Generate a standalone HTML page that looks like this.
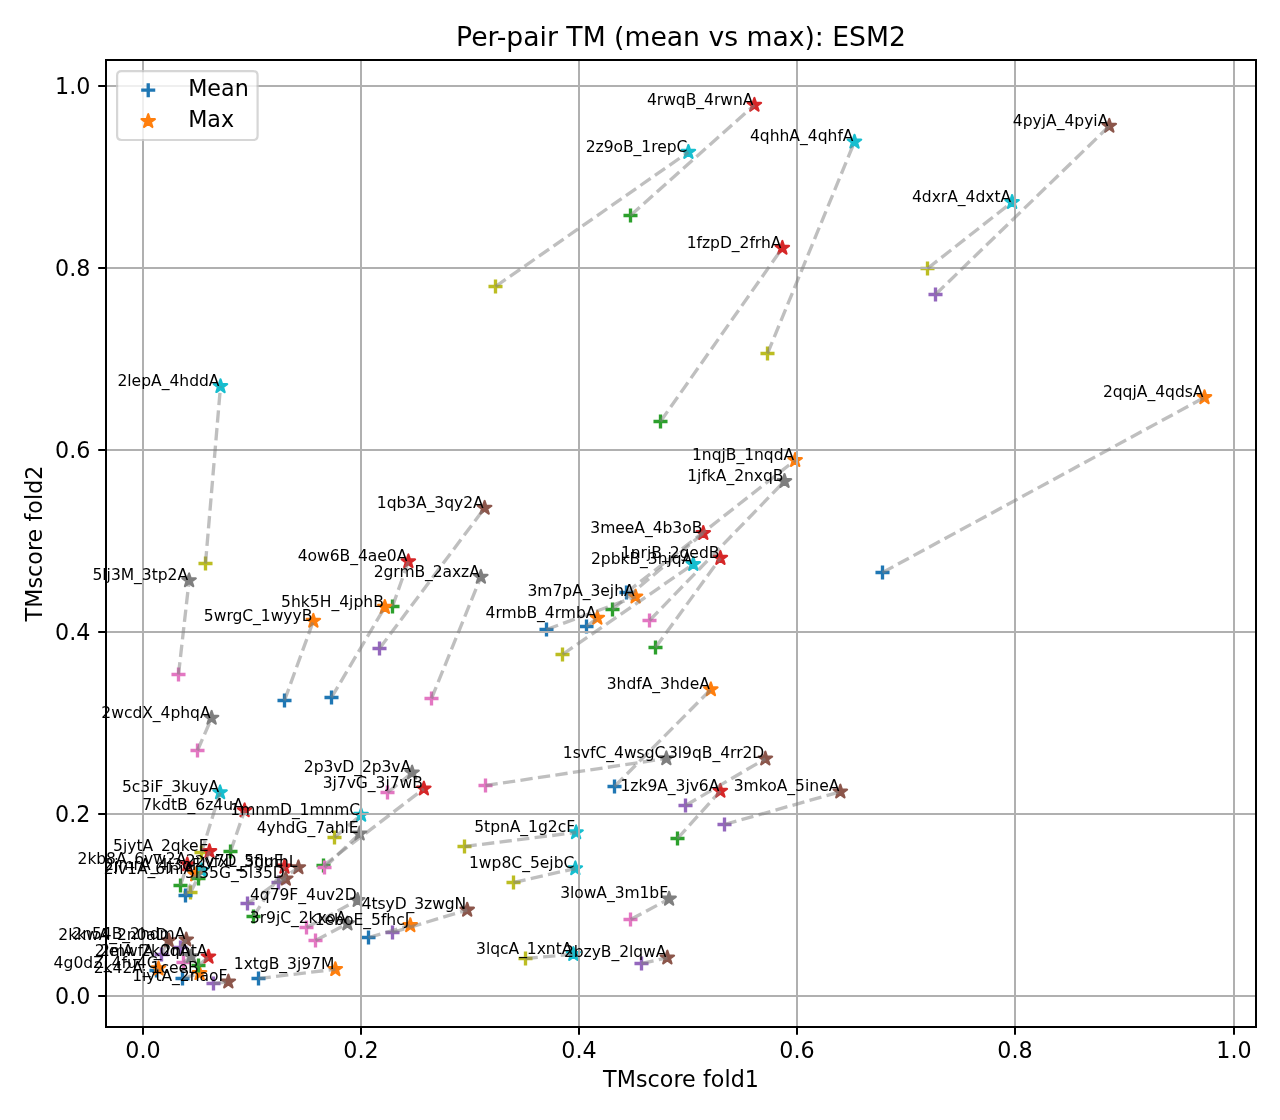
<!DOCTYPE html>
<html><head><meta charset="utf-8"><title>Per-pair TM (mean vs max): ESM2</title>
<style>html,body{margin:0;padding:0;background:#fff}svg{display:block}</style>
</head><body>
<svg width="1280" height="1120" viewBox="0 0 576 504">
 <defs>
  <style type="text/css">*{stroke-linejoin: round; stroke-linecap: butt}</style>
 </defs>
 <g id="figure_1">
  <g id="patch_1">
   <path d="M 0 504 L 576 504 L 576 0 L 0 0 z" style="fill: #ffffff"/>
  </g>
  <g id="axes_1">
   <g id="patch_2">
    <path d="M 47.7 462.15 L 565.2 462.15 L 565.2 27 L 47.7 27 z" style="fill: #ffffff"/>
   </g>
   <g id="PathCollection_1">
    <g clip-path="url(#p9a2cc77dde)">
     <path d="M -3.162278 0 L 3.162278 0 M 0 3.162278 L 0 -3.162278" transform="translate(165.825 421.875)" style="stroke: #1f77b4; stroke-width: 1.5; fill: #1f77b4; stroke: #1f77b4; stroke-width: 1.5"/>
    </g>
   </g>
   <g id="PathCollection_2">
    <g clip-path="url(#p9a2cc77dde)">
     <path d="M 0 -3.162278 L -0.709976 -0.977198 L -3.007505 -0.977198 L -1.148765 0.373256 L -1.85874 2.558336 L -0 1.207883 L 1.85874 2.558336 L 1.148765 0.373256 L 3.007505 -0.977198 L 0.709976 -0.977198 z" transform="translate(184.635 416.43)" style="stroke: #ff7f0e; fill: #ff7f0e; stroke: #ff7f0e"/>
    </g>
   </g>
   <g id="PathCollection_3">
    <g clip-path="url(#p9a2cc77dde)">
     <path d="M -3.162278 0 L 3.162278 0 M 0 3.162278 L 0 -3.162278" transform="translate(297.225 189.675)" style="stroke: #2ca02c; stroke-width: 1.5; fill: #2ca02c; stroke: #2ca02c; stroke-width: 1.5"/>
    </g>
   </g>
   <g id="PathCollection_4">
    <g clip-path="url(#p9a2cc77dde)">
     <path d="M 0 -3.162278 L -0.709976 -0.977198 L -3.007505 -0.977198 L -1.148765 0.373256 L -1.85874 2.558336 L -0 1.207883 L 1.85874 2.558336 L 1.148765 0.373256 L 3.007505 -0.977198 L 0.709976 -0.977198 z" transform="translate(352.0575 111.6)" style="stroke: #d62728; fill: #d62728; stroke: #d62728"/>
    </g>
   </g>
   <g id="PathCollection_5">
    <g clip-path="url(#p9a2cc77dde)">
     <path d="M -3.162278 0 L 3.162278 0 M 0 3.162278 L 0 -3.162278" transform="translate(96.075 442.575)" style="stroke: #9467bd; stroke-width: 1.5; fill: #9467bd; stroke: #9467bd; stroke-width: 1.5"/>
    </g>
   </g>
   <g id="PathCollection_6">
    <g clip-path="url(#p9a2cc77dde)">
     <path d="M 0 -3.162278 L -0.709976 -0.977198 L -3.007505 -0.977198 L -1.148765 0.373256 L -1.85874 2.558336 L -0 1.207883 L 1.85874 2.558336 L 1.148765 0.373256 L 3.007505 -0.977198 L 0.709976 -0.977198 z" transform="translate(102.7575 441.7875)" style="stroke: #8c564b; fill: #8c564b; stroke: #8c564b"/>
    </g>
   </g>
   <g id="PathCollection_7">
    <g clip-path="url(#p9a2cc77dde)">
     <path d="M -3.162278 0 L 3.162278 0 M 0 3.162278 L 0 -3.162278" transform="translate(292.275 279.225)" style="stroke: #e377c2; stroke-width: 1.5; fill: #e377c2; stroke: #e377c2; stroke-width: 1.5"/>
    </g>
   </g>
   <g id="PathCollection_8">
    <g clip-path="url(#p9a2cc77dde)">
     <path d="M 0 -3.162278 L -0.709976 -0.977198 L -3.007505 -0.977198 L -1.148765 0.373256 L -1.85874 2.558336 L -0 1.207883 L 1.85874 2.558336 L 1.148765 0.373256 L 3.007505 -0.977198 L 0.709976 -0.977198 z" transform="translate(353.025 216.54)" style="stroke: #7f7f7f; fill: #7f7f7f; stroke: #7f7f7f"/>
    </g>
   </g>
   <g id="PathCollection_9">
    <g clip-path="url(#p9a2cc77dde)">
     <path d="M -3.162278 0 L 3.162278 0 M 0 3.162278 L 0 -3.162278" transform="translate(150.525 376.875)" style="stroke: #bcbd22; stroke-width: 1.5; fill: #bcbd22; stroke: #bcbd22; stroke-width: 1.5"/>
    </g>
   </g>
   <g id="PathCollection_10">
    <g clip-path="url(#p9a2cc77dde)">
     <path d="M 0 -3.162278 L -0.709976 -0.977198 L -3.007505 -0.977198 L -1.148765 0.373256 L -1.85874 2.558336 L -0 1.207883 L 1.85874 2.558336 L 1.148765 0.373256 L 3.007505 -0.977198 L 0.709976 -0.977198 z" transform="translate(162.495 366.75)" style="stroke: #17becf; fill: #17becf; stroke: #17becf"/>
    </g>
   </g>
   <g id="PathCollection_11">
    <g clip-path="url(#p9a2cc77dde)">
     <path d="M -3.162278 0 L 3.162278 0 M 0 3.162278 L 0 -3.162278" transform="translate(281.925 266.625)" style="stroke: #1f77b4; stroke-width: 1.5; fill: #1f77b4; stroke: #1f77b4; stroke-width: 1.5"/>
    </g>
   </g>
   <g id="PathCollection_12">
    <g clip-path="url(#p9a2cc77dde)">
     <path d="M 0 -3.162278 L -0.709976 -0.977198 L -3.007505 -0.977198 L -1.148765 0.373256 L -1.85874 2.558336 L -0 1.207883 L 1.85874 2.558336 L 1.148765 0.373256 L 3.007505 -0.977198 L 0.709976 -0.977198 z" transform="translate(357.84 207.09)" style="stroke: #ff7f0e; fill: #ff7f0e; stroke: #ff7f0e"/>
    </g>
   </g>
   <g id="PathCollection_13">
    <g clip-path="url(#p9a2cc77dde)">
     <path d="M -3.162278 0 L 3.162278 0 M 0 3.162278 L 0 -3.162278" transform="translate(294.975 291.375)" style="stroke: #2ca02c; stroke-width: 1.5; fill: #2ca02c; stroke: #2ca02c; stroke-width: 1.5"/>
    </g>
   </g>
   <g id="PathCollection_14">
    <g clip-path="url(#p9a2cc77dde)">
     <path d="M 0 -3.162278 L -0.709976 -0.977198 L -3.007505 -0.977198 L -1.148765 0.373256 L -1.85874 2.558336 L -0 1.207883 L 1.85874 2.558336 L 1.148765 0.373256 L 3.007505 -0.977198 L 0.709976 -0.977198 z" transform="translate(324.18 251.145)" style="stroke: #d62728; fill: #d62728; stroke: #d62728"/>
    </g>
   </g>
   <g id="PathCollection_15">
    <g clip-path="url(#p9a2cc77dde)">
     <path d="M -3.162278 0 L 3.162278 0 M 0 3.162278 L 0 -3.162278" transform="translate(170.775 291.825)" style="stroke: #9467bd; stroke-width: 1.5; fill: #9467bd; stroke: #9467bd; stroke-width: 1.5"/>
    </g>
   </g>
   <g id="PathCollection_16">
    <g clip-path="url(#p9a2cc77dde)">
     <path d="M 0 -3.162278 L -0.709976 -0.977198 L -3.007505 -0.977198 L -1.148765 0.373256 L -1.85874 2.558336 L -0 1.207883 L 1.85874 2.558336 L 1.148765 0.373256 L 3.007505 -0.977198 L 0.709976 -0.977198 z" transform="translate(218.07 228.6)" style="stroke: #8c564b; fill: #8c564b; stroke: #8c564b"/>
    </g>
   </g>
   <g id="PathCollection_17">
    <g clip-path="url(#p9a2cc77dde)">
     <path d="M -3.162278 0 L 3.162278 0 M 0 3.162278 L 0 -3.162278" transform="translate(218.475 353.475)" style="stroke: #e377c2; stroke-width: 1.5; fill: #e377c2; stroke: #e377c2; stroke-width: 1.5"/>
    </g>
   </g>
   <g id="PathCollection_18">
    <g clip-path="url(#p9a2cc77dde)">
     <path d="M 0 -3.162278 L -0.709976 -0.977198 L -3.007505 -0.977198 L -1.148765 0.373256 L -1.85874 2.558336 L -0 1.207883 L 1.85874 2.558336 L 1.148765 0.373256 L 3.007505 -0.977198 L 0.709976 -0.977198 z" transform="translate(299.8575 341.325)" style="stroke: #7f7f7f; fill: #7f7f7f; stroke: #7f7f7f"/>
    </g>
   </g>
   <g id="PathCollection_19">
    <g clip-path="url(#p9a2cc77dde)">
     <path d="M -3.162278 0 L 3.162278 0 M 0 3.162278 L 0 -3.162278" transform="translate(231.075 397.125)" style="stroke: #bcbd22; stroke-width: 1.5; fill: #bcbd22; stroke: #bcbd22; stroke-width: 1.5"/>
    </g>
   </g>
   <g id="PathCollection_20">
    <g clip-path="url(#p9a2cc77dde)">
     <path d="M 0 -3.162278 L -0.709976 -0.977198 L -3.007505 -0.977198 L -1.148765 0.373256 L -1.85874 2.558336 L -0 1.207883 L 1.85874 2.558336 L 1.148765 0.373256 L 3.007505 -0.977198 L 0.709976 -0.977198 z" transform="translate(258.9075 390.825)" style="stroke: #17becf; fill: #17becf; stroke: #17becf"/>
    </g>
   </g>
   <g id="PathCollection_21">
    <g clip-path="url(#p9a2cc77dde)">
     <path d="M -3.162278 0 L 3.162278 0 M 0 3.162278 L 0 -3.162278" transform="translate(116.325 440.325)" style="stroke: #1f77b4; stroke-width: 1.5; fill: #1f77b4; stroke: #1f77b4; stroke-width: 1.5"/>
    </g>
   </g>
   <g id="PathCollection_22">
    <g clip-path="url(#p9a2cc77dde)">
     <path d="M 0 -3.162278 L -0.709976 -0.977198 L -3.007505 -0.977198 L -1.148765 0.373256 L -1.85874 2.558336 L -0 1.207883 L 1.85874 2.558336 L 1.148765 0.373256 L 3.007505 -0.977198 L 0.709976 -0.977198 z" transform="translate(150.9075 436.185)" style="stroke: #ff7f0e; fill: #ff7f0e; stroke: #ff7f0e"/>
    </g>
   </g>
   <g id="PathCollection_23">
    <g clip-path="url(#p9a2cc77dde)">
     <path d="M -3.162278 0 L 3.162278 0 M 0 3.162278 L 0 -3.162278" transform="translate(304.875 377.325)" style="stroke: #2ca02c; stroke-width: 1.5; fill: #2ca02c; stroke: #2ca02c; stroke-width: 1.5"/>
    </g>
   </g>
   <g id="PathCollection_24">
    <g clip-path="url(#p9a2cc77dde)">
     <path d="M 0 -3.162278 L -0.709976 -0.977198 L -3.007505 -0.977198 L -1.148765 0.373256 L -1.85874 2.558336 L -0 1.207883 L 1.85874 2.558336 L 1.148765 0.373256 L 3.007505 -0.977198 L 0.709976 -0.977198 z" transform="translate(324.1575 355.95)" style="stroke: #d62728; fill: #d62728; stroke: #d62728"/>
    </g>
   </g>
   <g id="PathCollection_25">
    <g clip-path="url(#p9a2cc77dde)">
     <path d="M -3.162278 0 L 3.162278 0 M 0 3.162278 L 0 -3.162278" transform="translate(288.675 433.575)" style="stroke: #9467bd; stroke-width: 1.5; fill: #9467bd; stroke: #9467bd; stroke-width: 1.5"/>
    </g>
   </g>
   <g id="PathCollection_26">
    <g clip-path="url(#p9a2cc77dde)">
     <path d="M 0 -3.162278 L -0.709976 -0.977198 L -3.007505 -0.977198 L -1.148765 0.373256 L -1.85874 2.558336 L -0 1.207883 L 1.85874 2.558336 L 1.148765 0.373256 L 3.007505 -0.977198 L 0.709976 -0.977198 z" transform="translate(300.3075 430.9875)" style="stroke: #8c564b; fill: #8c564b; stroke: #8c564b"/>
    </g>
   </g>
   <g id="PathCollection_27">
    <g clip-path="url(#p9a2cc77dde)">
     <path d="M -3.162278 0 L 3.162278 0 M 0 3.162278 L 0 -3.162278" transform="translate(194.175 314.325)" style="stroke: #e377c2; stroke-width: 1.5; fill: #e377c2; stroke: #e377c2; stroke-width: 1.5"/>
    </g>
   </g>
   <g id="PathCollection_28">
    <g clip-path="url(#p9a2cc77dde)">
     <path d="M 0 -3.162278 L -0.709976 -0.977198 L -3.007505 -0.977198 L -1.148765 0.373256 L -1.85874 2.558336 L -0 1.207883 L 1.85874 2.558336 L 1.148765 0.373256 L 3.007505 -0.977198 L 0.709976 -0.977198 z" transform="translate(216.3825 259.65)" style="stroke: #7f7f7f; fill: #7f7f7f; stroke: #7f7f7f"/>
    </g>
   </g>
   <g id="PathCollection_29">
    <g clip-path="url(#p9a2cc77dde)">
     <path d="M -3.162278 0 L 3.162278 0 M 0 3.162278 L 0 -3.162278" transform="translate(85.725 401.625)" style="stroke: #bcbd22; stroke-width: 1.5; fill: #bcbd22; stroke: #bcbd22; stroke-width: 1.5"/>
    </g>
   </g>
   <g id="PathCollection_30">
    <g clip-path="url(#p9a2cc77dde)">
     <path d="M 0 -3.162278 L -0.709976 -0.977198 L -3.007505 -0.977198 L -1.148765 0.373256 L -1.85874 2.558336 L -0 1.207883 L 1.85874 2.558336 L 1.148765 0.373256 L 3.007505 -0.977198 L 0.709976 -0.977198 z" transform="translate(90.72 391.68)" style="stroke: #17becf; fill: #17becf; stroke: #17becf"/>
    </g>
   </g>
   <g id="PathCollection_31">
    <g clip-path="url(#p9a2cc77dde)">
     <path d="M -3.162278 0 L 3.162278 0 M 0 3.162278 L 0 -3.162278" transform="translate(82.125 440.325)" style="stroke: #1f77b4; stroke-width: 1.5; fill: #1f77b4; stroke: #1f77b4; stroke-width: 1.5"/>
    </g>
   </g>
   <g id="PathCollection_32">
    <g clip-path="url(#p9a2cc77dde)">
     <path d="M 0 -3.162278 L -0.709976 -0.977198 L -3.007505 -0.977198 L -1.148765 0.373256 L -1.85874 2.558336 L -0 1.207883 L 1.85874 2.558336 L 1.148765 0.373256 L 3.007505 -0.977198 L 0.709976 -0.977198 z" transform="translate(89.82 437.985)" style="stroke: #ff7f0e; fill: #ff7f0e; stroke: #ff7f0e"/>
    </g>
   </g>
   <g id="PathCollection_33">
    <g clip-path="url(#p9a2cc77dde)">
     <path d="M -3.162278 0 L 3.162278 0 M 0 3.162278 L 0 -3.162278" transform="translate(81.225 398.475)" style="stroke: #2ca02c; stroke-width: 1.5; fill: #2ca02c; stroke: #2ca02c; stroke-width: 1.5"/>
    </g>
   </g>
   <g id="PathCollection_34">
    <g clip-path="url(#p9a2cc77dde)">
     <path d="M 0 -3.162278 L -0.709976 -0.977198 L -3.007505 -0.977198 L -1.148765 0.373256 L -1.85874 2.558336 L -0 1.207883 L 1.85874 2.558336 L 1.148765 0.373256 L 3.007505 -0.977198 L 0.709976 -0.977198 z" transform="translate(84.285 389.025)" style="stroke: #d62728; fill: #d62728; stroke: #d62728"/>
    </g>
   </g>
   <g id="PathCollection_35">
    <g clip-path="url(#p9a2cc77dde)">
     <path d="M -3.162278 0 L 3.162278 0 M 0 3.162278 L 0 -3.162278" transform="translate(72.675 429.525)" style="stroke: #9467bd; stroke-width: 1.5; fill: #9467bd; stroke: #9467bd; stroke-width: 1.5"/>
    </g>
   </g>
   <g id="PathCollection_36">
    <g clip-path="url(#p9a2cc77dde)">
     <path d="M 0 -3.162278 L -0.709976 -0.977198 L -3.007505 -0.977198 L -1.148765 0.373256 L -1.85874 2.558336 L -0 1.207883 L 1.85874 2.558336 L 1.148765 0.373256 L 3.007505 -0.977198 L 0.709976 -0.977198 z" transform="translate(75.96 423.27)" style="stroke: #8c564b; fill: #8c564b; stroke: #8c564b"/>
    </g>
   </g>
   <g id="PathCollection_37">
    <g clip-path="url(#p9a2cc77dde)">
     <path d="M -3.162278 0 L 3.162278 0 M 0 3.162278 L 0 -3.162278" transform="translate(82.575 433.125)" style="stroke: #e377c2; stroke-width: 1.5; fill: #e377c2; stroke: #e377c2; stroke-width: 1.5"/>
    </g>
   </g>
   <g id="PathCollection_38">
    <g clip-path="url(#p9a2cc77dde)">
     <path d="M 0 -3.162278 L -0.709976 -0.977198 L -3.007505 -0.977198 L -1.148765 0.373256 L -1.85874 2.558336 L -0 1.207883 L 1.85874 2.558336 L 1.148765 0.373256 L 3.007505 -0.977198 L 0.709976 -0.977198 z" transform="translate(86.04 430.425)" style="stroke: #7f7f7f; fill: #7f7f7f; stroke: #7f7f7f"/>
    </g>
   </g>
   <g id="PathCollection_39">
    <g clip-path="url(#p9a2cc77dde)">
     <path d="M -3.162278 0 L 3.162278 0 M 0 3.162278 L 0 -3.162278" transform="translate(92.475 253.575)" style="stroke: #bcbd22; stroke-width: 1.5; fill: #bcbd22; stroke: #bcbd22; stroke-width: 1.5"/>
    </g>
   </g>
   <g id="PathCollection_40">
    <g clip-path="url(#p9a2cc77dde)">
     <path d="M 0 -3.162278 L -0.709976 -0.977198 L -3.007505 -0.977198 L -1.148765 0.373256 L -1.85874 2.558336 L -0 1.207883 L 1.85874 2.558336 L 1.148765 0.373256 L 3.007505 -0.977198 L 0.709976 -0.977198 z" transform="translate(99.225 173.835)" style="stroke: #17becf; fill: #17becf; stroke: #17becf"/>
    </g>
   </g>
   <g id="PathCollection_41">
    <g clip-path="url(#p9a2cc77dde)">
     <path d="M -3.162278 0 L 3.162278 0 M 0 3.162278 L 0 -3.162278" transform="translate(83.475 402.975)" style="stroke: #1f77b4; stroke-width: 1.5; fill: #1f77b4; stroke: #1f77b4; stroke-width: 1.5"/>
    </g>
   </g>
   <g id="PathCollection_42">
    <g clip-path="url(#p9a2cc77dde)">
     <path d="M 0 -3.162278 L -0.709976 -0.977198 L -3.007505 -0.977198 L -1.148765 0.373256 L -1.85874 2.558336 L -0 1.207883 L 1.85874 2.558336 L 1.148765 0.373256 L 3.007505 -0.977198 L 0.709976 -0.977198 z" transform="translate(87.84 393.57)" style="stroke: #ff7f0e; fill: #ff7f0e; stroke: #ff7f0e"/>
    </g>
   </g>
   <g id="PathCollection_43">
    <g clip-path="url(#p9a2cc77dde)">
     <path d="M -3.162278 0 L 3.162278 0 M 0 3.162278 L 0 -3.162278" transform="translate(89.325 434.475)" style="stroke: #2ca02c; stroke-width: 1.5; fill: #2ca02c; stroke: #2ca02c; stroke-width: 1.5"/>
    </g>
   </g>
   <g id="PathCollection_44">
    <g clip-path="url(#p9a2cc77dde)">
     <path d="M 0 -3.162278 L -0.709976 -0.977198 L -3.007505 -0.977198 L -1.148765 0.373256 L -1.85874 2.558336 L -0 1.207883 L 1.85874 2.558336 L 1.148765 0.373256 L 3.007505 -0.977198 L 0.709976 -0.977198 z" transform="translate(93.825 430.56)" style="stroke: #d62728; fill: #d62728; stroke: #d62728"/>
    </g>
   </g>
   <g id="PathCollection_45">
    <g clip-path="url(#p9a2cc77dde)">
     <path d="M -3.162278 0 L 3.162278 0 M 0 3.162278 L 0 -3.162278" transform="translate(81.225 426.375)" style="stroke: #9467bd; stroke-width: 1.5; fill: #9467bd; stroke: #9467bd; stroke-width: 1.5"/>
    </g>
   </g>
   <g id="PathCollection_46">
    <g clip-path="url(#p9a2cc77dde)">
     <path d="M 0 -3.162278 L -0.709976 -0.977198 L -3.007505 -0.977198 L -1.148765 0.373256 L -1.85874 2.558336 L -0 1.207883 L 1.85874 2.558336 L 1.148765 0.373256 L 3.007505 -0.977198 L 0.709976 -0.977198 z" transform="translate(83.835 422.865)" style="stroke: #8c564b; fill: #8c564b; stroke: #8c564b"/>
    </g>
   </g>
   <g id="PathCollection_47">
    <g clip-path="url(#p9a2cc77dde)">
     <path d="M -3.162278 0 L 3.162278 0 M 0 3.162278 L 0 -3.162278" transform="translate(174.375 356.625)" style="stroke: #e377c2; stroke-width: 1.5; fill: #e377c2; stroke: #e377c2; stroke-width: 1.5"/>
    </g>
   </g>
   <g id="PathCollection_48">
    <g clip-path="url(#p9a2cc77dde)">
     <path d="M 0 -3.162278 L -0.709976 -0.977198 L -3.007505 -0.977198 L -1.148765 0.373256 L -1.85874 2.558336 L -0 1.207883 L 1.85874 2.558336 L 1.148765 0.373256 L 3.007505 -0.977198 L 0.709976 -0.977198 z" transform="translate(185.445 347.7375)" style="stroke: #7f7f7f; fill: #7f7f7f; stroke: #7f7f7f"/>
    </g>
   </g>
   <g id="PathCollection_49">
    <g clip-path="url(#p9a2cc77dde)">
     <path d="M -3.162278 0 L 3.162278 0 M 0 3.162278 L 0 -3.162278" transform="translate(253.125 294.525)" style="stroke: #bcbd22; stroke-width: 1.5; fill: #bcbd22; stroke: #bcbd22; stroke-width: 1.5"/>
    </g>
   </g>
   <g id="PathCollection_50">
    <g clip-path="url(#p9a2cc77dde)">
     <path d="M 0 -3.162278 L -0.709976 -0.977198 L -3.007505 -0.977198 L -1.148765 0.373256 L -1.85874 2.558336 L -0 1.207883 L 1.85874 2.558336 L 1.148765 0.373256 L 3.007505 -0.977198 L 0.709976 -0.977198 z" transform="translate(311.985 253.89)" style="stroke: #17becf; fill: #17becf; stroke: #17becf"/>
    </g>
   </g>
   <g id="PathCollection_51">
    <g clip-path="url(#p9a2cc77dde)">
     <path d="M -3.162278 0 L 3.162278 0 M 0 3.162278 L 0 -3.162278" transform="translate(397.125 257.625)" style="stroke: #1f77b4; stroke-width: 1.5; fill: #1f77b4; stroke: #1f77b4; stroke-width: 1.5"/>
    </g>
   </g>
   <g id="PathCollection_52">
    <g clip-path="url(#p9a2cc77dde)">
     <path d="M 0 -3.162278 L -0.709976 -0.977198 L -3.007505 -0.977198 L -1.148765 0.373256 L -1.85874 2.558336 L -0 1.207883 L 1.85874 2.558336 L 1.148765 0.373256 L 3.007505 -0.977198 L 0.709976 -0.977198 z" transform="translate(542.025 178.83)" style="stroke: #ff7f0e; fill: #ff7f0e; stroke: #ff7f0e"/>
    </g>
   </g>
   <g id="PathCollection_53">
    <g clip-path="url(#p9a2cc77dde)">
     <path d="M -3.162278 0 L 3.162278 0 M 0 3.162278 L 0 -3.162278" transform="translate(114.075 412.425)" style="stroke: #2ca02c; stroke-width: 1.5; fill: #2ca02c; stroke: #2ca02c; stroke-width: 1.5"/>
    </g>
   </g>
   <g id="PathCollection_54">
    <g clip-path="url(#p9a2cc77dde)">
     <path d="M 0 -3.162278 L -0.709976 -0.977198 L -3.007505 -0.977198 L -1.148765 0.373256 L -1.85874 2.558336 L -0 1.207883 L 1.85874 2.558336 L 1.148765 0.373256 L 3.007505 -0.977198 L 0.709976 -0.977198 z" transform="translate(128.025 390.105)" style="stroke: #d62728; fill: #d62728; stroke: #d62728"/>
    </g>
   </g>
   <g id="PathCollection_55">
    <g clip-path="url(#p9a2cc77dde)">
     <path d="M -3.162278 0 L 3.162278 0 M 0 3.162278 L 0 -3.162278" transform="translate(111.375 406.575)" style="stroke: #9467bd; stroke-width: 1.5; fill: #9467bd; stroke: #9467bd; stroke-width: 1.5"/>
    </g>
   </g>
   <g id="PathCollection_56">
    <g clip-path="url(#p9a2cc77dde)">
     <path d="M 0 -3.162278 L -0.709976 -0.977198 L -3.007505 -0.977198 L -1.148765 0.373256 L -1.85874 2.558336 L -0 1.207883 L 1.85874 2.558336 L 1.148765 0.373256 L 3.007505 -0.977198 L 0.709976 -0.977198 z" transform="translate(134.28 390.375)" style="stroke: #8c564b; fill: #8c564b; stroke: #8c564b"/>
    </g>
   </g>
   <g id="PathCollection_57">
    <g clip-path="url(#p9a2cc77dde)">
     <path d="M -3.162278 0 L 3.162278 0 M 0 3.162278 L 0 -3.162278" transform="translate(88.875 337.725)" style="stroke: #e377c2; stroke-width: 1.5; fill: #e377c2; stroke: #e377c2; stroke-width: 1.5"/>
    </g>
   </g>
   <g id="PathCollection_58">
    <g clip-path="url(#p9a2cc77dde)">
     <path d="M 0 -3.162278 L -0.709976 -0.977198 L -3.007505 -0.977198 L -1.148765 0.373256 L -1.85874 2.558336 L -0 1.207883 L 1.85874 2.558336 L 1.148765 0.373256 L 3.007505 -0.977198 L 0.709976 -0.977198 z" transform="translate(95.22 323.1)" style="stroke: #7f7f7f; fill: #7f7f7f; stroke: #7f7f7f"/>
    </g>
   </g>
   <g id="PathCollection_59">
    <g clip-path="url(#p9a2cc77dde)">
     <path d="M -3.162278 0 L 3.162278 0 M 0 3.162278 L 0 -3.162278" transform="translate(222.975 128.925)" style="stroke: #bcbd22; stroke-width: 1.5; fill: #bcbd22; stroke: #bcbd22; stroke-width: 1.5"/>
    </g>
   </g>
   <g id="PathCollection_60">
    <g clip-path="url(#p9a2cc77dde)">
     <path d="M 0 -3.162278 L -0.709976 -0.977198 L -3.007505 -0.977198 L -1.148765 0.373256 L -1.85874 2.558336 L -0 1.207883 L 1.85874 2.558336 L 1.148765 0.373256 L 3.007505 -0.977198 L 0.709976 -0.977198 z" transform="translate(309.78 68.445)" style="stroke: #17becf; fill: #17becf; stroke: #17becf"/>
    </g>
   </g>
   <g id="PathCollection_61">
    <g clip-path="url(#p9a2cc77dde)">
     <path d="M -3.162278 0 L 3.162278 0 M 0 3.162278 L 0 -3.162278" transform="translate(276.525 353.925)" style="stroke: #1f77b4; stroke-width: 1.5; fill: #1f77b4; stroke: #1f77b4; stroke-width: 1.5"/>
    </g>
   </g>
   <g id="PathCollection_62">
    <g clip-path="url(#p9a2cc77dde)">
     <path d="M 0 -3.162278 L -0.709976 -0.977198 L -3.007505 -0.977198 L -1.148765 0.373256 L -1.85874 2.558336 L -0 1.207883 L 1.85874 2.558336 L 1.148765 0.373256 L 3.007505 -0.977198 L 0.709976 -0.977198 z" transform="translate(319.8825 310.275)" style="stroke: #ff7f0e; fill: #ff7f0e; stroke: #ff7f0e"/>
    </g>
   </g>
   <g id="PathCollection_63">
    <g clip-path="url(#p9a2cc77dde)">
     <path d="M -3.162278 0 L 3.162278 0 M 0 3.162278 L 0 -3.162278" transform="translate(145.575 389.475)" style="stroke: #2ca02c; stroke-width: 1.5; fill: #2ca02c; stroke: #2ca02c; stroke-width: 1.5"/>
    </g>
   </g>
   <g id="PathCollection_64">
    <g clip-path="url(#p9a2cc77dde)">
     <path d="M 0 -3.162278 L -0.709976 -0.977198 L -3.007505 -0.977198 L -1.148765 0.373256 L -1.85874 2.558336 L -0 1.207883 L 1.85874 2.558336 L 1.148765 0.373256 L 3.007505 -0.977198 L 0.709976 -0.977198 z" transform="translate(190.7325 354.9375)" style="stroke: #d62728; fill: #d62728; stroke: #d62728"/>
    </g>
   </g>
   <g id="PathCollection_65">
    <g clip-path="url(#p9a2cc77dde)">
     <path d="M -3.162278 0 L 3.162278 0 M 0 3.162278 L 0 -3.162278" transform="translate(308.475 362.475)" style="stroke: #9467bd; stroke-width: 1.5; fill: #9467bd; stroke: #9467bd; stroke-width: 1.5"/>
    </g>
   </g>
   <g id="PathCollection_66">
    <g clip-path="url(#p9a2cc77dde)">
     <path d="M 0 -3.162278 L -0.709976 -0.977198 L -3.007505 -0.977198 L -1.148765 0.373256 L -1.85874 2.558336 L -0 1.207883 L 1.85874 2.558336 L 1.148765 0.373256 L 3.007505 -0.977198 L 0.709976 -0.977198 z" transform="translate(344.4075 341.4375)" style="stroke: #8c564b; fill: #8c564b; stroke: #8c564b"/>
    </g>
   </g>
   <g id="PathCollection_67">
    <g clip-path="url(#p9a2cc77dde)">
     <path d="M -3.162278 0 L 3.162278 0 M 0 3.162278 L 0 -3.162278" transform="translate(283.725 413.775)" style="stroke: #e377c2; stroke-width: 1.5; fill: #e377c2; stroke: #e377c2; stroke-width: 1.5"/>
    </g>
   </g>
   <g id="PathCollection_68">
    <g clip-path="url(#p9a2cc77dde)">
     <path d="M 0 -3.162278 L -0.709976 -0.977198 L -3.007505 -0.977198 L -1.148765 0.373256 L -1.85874 2.558336 L -0 1.207883 L 1.85874 2.558336 L 1.148765 0.373256 L 3.007505 -0.977198 L 0.709976 -0.977198 z" transform="translate(301.095 404.505)" style="stroke: #7f7f7f; fill: #7f7f7f; stroke: #7f7f7f"/>
    </g>
   </g>
   <g id="PathCollection_69">
    <g clip-path="url(#p9a2cc77dde)">
     <path d="M -3.162278 0 L 3.162278 0 M 0 3.162278 L 0 -3.162278" transform="translate(236.475 431.325)" style="stroke: #bcbd22; stroke-width: 1.5; fill: #bcbd22; stroke: #bcbd22; stroke-width: 1.5"/>
    </g>
   </g>
   <g id="PathCollection_70">
    <g clip-path="url(#p9a2cc77dde)">
     <path d="M 0 -3.162278 L -0.709976 -0.977198 L -3.007505 -0.977198 L -1.148765 0.373256 L -1.85874 2.558336 L -0 1.207883 L 1.85874 2.558336 L 1.148765 0.373256 L 3.007505 -0.977198 L 0.709976 -0.977198 z" transform="translate(258.0075 429.4125)" style="stroke: #17becf; fill: #17becf; stroke: #17becf"/>
    </g>
   </g>
   <g id="PathCollection_71">
    <g clip-path="url(#p9a2cc77dde)">
     <path d="M -3.162278 0 L 3.162278 0 M 0 3.162278 L 0 -3.162278" transform="translate(245.925 283.275)" style="stroke: #1f77b4; stroke-width: 1.5; fill: #1f77b4; stroke: #1f77b4; stroke-width: 1.5"/>
    </g>
   </g>
   <g id="PathCollection_72">
    <g clip-path="url(#p9a2cc77dde)">
     <path d="M 0 -3.162278 L -0.709976 -0.977198 L -3.007505 -0.977198 L -1.148765 0.373256 L -1.85874 2.558336 L -0 1.207883 L 1.85874 2.558336 L 1.148765 0.373256 L 3.007505 -0.977198 L 0.709976 -0.977198 z" transform="translate(286.02 268.5375)" style="stroke: #ff7f0e; fill: #ff7f0e; stroke: #ff7f0e"/>
    </g>
   </g>
   <g id="PathCollection_73">
    <g clip-path="url(#p9a2cc77dde)">
     <path d="M -3.162278 0 L 3.162278 0 M 0 3.162278 L 0 -3.162278" transform="translate(275.625 274.275)" style="stroke: #2ca02c; stroke-width: 1.5; fill: #2ca02c; stroke: #2ca02c; stroke-width: 1.5"/>
    </g>
   </g>
   <g id="PathCollection_74">
    <g clip-path="url(#p9a2cc77dde)">
     <path d="M 0 -3.162278 L -0.709976 -0.977198 L -3.007505 -0.977198 L -1.148765 0.373256 L -1.85874 2.558336 L -0 1.207883 L 1.85874 2.558336 L 1.148765 0.373256 L 3.007505 -0.977198 L 0.709976 -0.977198 z" transform="translate(316.485 239.94)" style="stroke: #d62728; fill: #d62728; stroke: #d62728"/>
    </g>
   </g>
   <g id="PathCollection_75">
    <g clip-path="url(#p9a2cc77dde)">
     <path d="M -3.162278 0 L 3.162278 0 M 0 3.162278 L 0 -3.162278" transform="translate(326.025 371.025)" style="stroke: #9467bd; stroke-width: 1.5; fill: #9467bd; stroke: #9467bd; stroke-width: 1.5"/>
    </g>
   </g>
   <g id="PathCollection_76">
    <g clip-path="url(#p9a2cc77dde)">
     <path d="M 0 -3.162278 L -0.709976 -0.977198 L -3.007505 -0.977198 L -1.148765 0.373256 L -1.85874 2.558336 L -0 1.207883 L 1.85874 2.558336 L 1.148765 0.373256 L 3.007505 -0.977198 L 0.709976 -0.977198 z" transform="translate(378.1575 356.2875)" style="stroke: #8c564b; fill: #8c564b; stroke: #8c564b"/>
    </g>
   </g>
   <g id="PathCollection_77">
    <g clip-path="url(#p9a2cc77dde)">
     <path d="M -3.162278 0 L 3.162278 0 M 0 3.162278 L 0 -3.162278" transform="translate(141.975 423.225)" style="stroke: #e377c2; stroke-width: 1.5; fill: #e377c2; stroke: #e377c2; stroke-width: 1.5"/>
    </g>
   </g>
   <g id="PathCollection_78">
    <g clip-path="url(#p9a2cc77dde)">
     <path d="M 0 -3.162278 L -0.709976 -0.977198 L -3.007505 -0.977198 L -1.148765 0.373256 L -1.85874 2.558336 L -0 1.207883 L 1.85874 2.558336 L 1.148765 0.373256 L 3.007505 -0.977198 L 0.709976 -0.977198 z" transform="translate(156.33 415.62)" style="stroke: #7f7f7f; fill: #7f7f7f; stroke: #7f7f7f"/>
    </g>
   </g>
   <g id="PathCollection_79">
    <g clip-path="url(#p9a2cc77dde)">
     <path d="M -3.162278 0 L 3.162278 0 M 0 3.162278 L 0 -3.162278" transform="translate(417.375 120.825)" style="stroke: #bcbd22; stroke-width: 1.5; fill: #bcbd22; stroke: #bcbd22; stroke-width: 1.5"/>
    </g>
   </g>
   <g id="PathCollection_80">
    <g clip-path="url(#p9a2cc77dde)">
     <path d="M 0 -3.162278 L -0.709976 -0.977198 L -3.007505 -0.977198 L -1.148765 0.373256 L -1.85874 2.558336 L -0 1.207883 L 1.85874 2.558336 L 1.148765 0.373256 L 3.007505 -0.977198 L 0.709976 -0.977198 z" transform="translate(455.445 90.99)" style="stroke: #17becf; fill: #17becf; stroke: #17becf"/>
    </g>
   </g>
   <g id="PathCollection_81">
    <g clip-path="url(#p9a2cc77dde)">
     <path d="M -3.162278 0 L 3.162278 0 M 0 3.162278 L 0 -3.162278" transform="translate(70.425 436.725)" style="stroke: #1f77b4; stroke-width: 1.5; fill: #1f77b4; stroke: #1f77b4; stroke-width: 1.5"/>
    </g>
   </g>
   <g id="PathCollection_82">
    <g clip-path="url(#p9a2cc77dde)">
     <path d="M 0 -3.162278 L -0.709976 -0.977198 L -3.007505 -0.977198 L -1.148765 0.373256 L -1.85874 2.558336 L -0 1.207883 L 1.85874 2.558336 L 1.148765 0.373256 L 3.007505 -0.977198 L 0.709976 -0.977198 z" transform="translate(71.325 435.87)" style="stroke: #ff7f0e; fill: #ff7f0e; stroke: #ff7f0e"/>
    </g>
   </g>
   <g id="PathCollection_83">
    <g clip-path="url(#p9a2cc77dde)">
     <path d="M -3.162278 0 L 3.162278 0 M 0 3.162278 L 0 -3.162278" transform="translate(176.625 272.925)" style="stroke: #2ca02c; stroke-width: 1.5; fill: #2ca02c; stroke: #2ca02c; stroke-width: 1.5"/>
    </g>
   </g>
   <g id="PathCollection_84">
    <g clip-path="url(#p9a2cc77dde)">
     <path d="M 0 -3.162278 L -0.709976 -0.977198 L -3.007505 -0.977198 L -1.148765 0.373256 L -1.85874 2.558336 L -0 1.207883 L 1.85874 2.558336 L 1.148765 0.373256 L 3.007505 -0.977198 L 0.709976 -0.977198 z" transform="translate(183.7575 252.675)" style="stroke: #d62728; fill: #d62728; stroke: #d62728"/>
    </g>
   </g>
   <g id="PathCollection_85">
    <g clip-path="url(#p9a2cc77dde)">
     <path d="M -3.162278 0 L 3.162278 0 M 0 3.162278 L 0 -3.162278" transform="translate(420.975 132.525)" style="stroke: #9467bd; stroke-width: 1.5; fill: #9467bd; stroke: #9467bd; stroke-width: 1.5"/>
    </g>
   </g>
   <g id="PathCollection_86">
    <g clip-path="url(#p9a2cc77dde)">
     <path d="M 0 -3.162278 L -0.709976 -0.977198 L -3.007505 -0.977198 L -1.148765 0.373256 L -1.85874 2.558336 L -0 1.207883 L 1.85874 2.558336 L 1.148765 0.373256 L 3.007505 -0.977198 L 0.709976 -0.977198 z" transform="translate(499.185 56.7)" style="stroke: #8c564b; fill: #8c564b; stroke: #8c564b"/>
    </g>
   </g>
   <g id="PathCollection_87">
    <g clip-path="url(#p9a2cc77dde)">
     <path d="M -3.162278 0 L 3.162278 0 M 0 3.162278 L 0 -3.162278" transform="translate(137.925 417.375)" style="stroke: #e377c2; stroke-width: 1.5; fill: #e377c2; stroke: #e377c2; stroke-width: 1.5"/>
    </g>
   </g>
   <g id="PathCollection_88">
    <g clip-path="url(#p9a2cc77dde)">
     <path d="M 0 -3.162278 L -0.709976 -0.977198 L -3.007505 -0.977198 L -1.148765 0.373256 L -1.85874 2.558336 L -0 1.207883 L 1.85874 2.558336 L 1.148765 0.373256 L 3.007505 -0.977198 L 0.709976 -0.977198 z" transform="translate(160.965 405.09)" style="stroke: #7f7f7f; fill: #7f7f7f; stroke: #7f7f7f"/>
    </g>
   </g>
   <g id="PathCollection_89">
    <g clip-path="url(#p9a2cc77dde)">
     <path d="M -3.162278 0 L 3.162278 0 M 0 3.162278 L 0 -3.162278" transform="translate(345.375 159.075)" style="stroke: #bcbd22; stroke-width: 1.5; fill: #bcbd22; stroke: #bcbd22; stroke-width: 1.5"/>
    </g>
   </g>
   <g id="PathCollection_90">
    <g clip-path="url(#p9a2cc77dde)">
     <path d="M 0 -3.162278 L -0.709976 -0.977198 L -3.007505 -0.977198 L -1.148765 0.373256 L -1.85874 2.558336 L -0 1.207883 L 1.85874 2.558336 L 1.148765 0.373256 L 3.007505 -0.977198 L 0.709976 -0.977198 z" transform="translate(384.525 63.81)" style="stroke: #17becf; fill: #17becf; stroke: #17becf"/>
    </g>
   </g>
   <g id="PathCollection_91">
    <g clip-path="url(#p9a2cc77dde)">
     <path d="M -3.162278 0 L 3.162278 0 M 0 3.162278 L 0 -3.162278" transform="translate(263.925 281.925)" style="stroke: #1f77b4; stroke-width: 1.5; fill: #1f77b4; stroke: #1f77b4; stroke-width: 1.5"/>
    </g>
   </g>
   <g id="PathCollection_92">
    <g clip-path="url(#p9a2cc77dde)">
     <path d="M 0 -3.162278 L -0.709976 -0.977198 L -3.007505 -0.977198 L -1.148765 0.373256 L -1.85874 2.558336 L -0 1.207883 L 1.85874 2.558336 L 1.148765 0.373256 L 3.007505 -0.977198 L 0.709976 -0.977198 z" transform="translate(268.8075 278.1)" style="stroke: #ff7f0e; fill: #ff7f0e; stroke: #ff7f0e"/>
    </g>
   </g>
   <g id="PathCollection_93">
    <g clip-path="url(#p9a2cc77dde)">
     <path d="M -3.162278 0 L 3.162278 0 M 0 3.162278 L 0 -3.162278" transform="translate(283.725 96.975)" style="stroke: #2ca02c; stroke-width: 1.5; fill: #2ca02c; stroke: #2ca02c; stroke-width: 1.5"/>
    </g>
   </g>
   <g id="PathCollection_94">
    <g clip-path="url(#p9a2cc77dde)">
     <path d="M 0 -3.162278 L -0.709976 -0.977198 L -3.007505 -0.977198 L -1.148765 0.373256 L -1.85874 2.558336 L -0 1.207883 L 1.85874 2.558336 L 1.148765 0.373256 L 3.007505 -0.977198 L 0.709976 -0.977198 z" transform="translate(339.48 47.25)" style="stroke: #d62728; fill: #d62728; stroke: #d62728"/>
    </g>
   </g>
   <g id="PathCollection_95">
    <g clip-path="url(#p9a2cc77dde)">
     <path d="M -3.162278 0 L 3.162278 0 M 0 3.162278 L 0 -3.162278" transform="translate(176.625 419.625)" style="stroke: #9467bd; stroke-width: 1.5; fill: #9467bd; stroke: #9467bd; stroke-width: 1.5"/>
    </g>
   </g>
   <g id="PathCollection_96">
    <g clip-path="url(#p9a2cc77dde)">
     <path d="M 0 -3.162278 L -0.709976 -0.977198 L -3.007505 -0.977198 L -1.148765 0.373256 L -1.85874 2.558336 L -0 1.207883 L 1.85874 2.558336 L 1.148765 0.373256 L 3.007505 -0.977198 L 0.709976 -0.977198 z" transform="translate(210.24 409.455)" style="stroke: #8c564b; fill: #8c564b; stroke: #8c564b"/>
    </g>
   </g>
   <g id="PathCollection_97">
    <g clip-path="url(#p9a2cc77dde)">
     <path d="M -3.162278 0 L 3.162278 0 M 0 3.162278 L 0 -3.162278" transform="translate(146.025 390.375)" style="stroke: #e377c2; stroke-width: 1.5; fill: #e377c2; stroke: #e377c2; stroke-width: 1.5"/>
    </g>
   </g>
   <g id="PathCollection_98">
    <g clip-path="url(#p9a2cc77dde)">
     <path d="M 0 -3.162278 L -0.709976 -0.977198 L -3.007505 -0.977198 L -1.148765 0.373256 L -1.85874 2.558336 L -0 1.207883 L 1.85874 2.558336 L 1.148765 0.373256 L 3.007505 -0.977198 L 0.709976 -0.977198 z" transform="translate(161.82 375.165)" style="stroke: #7f7f7f; fill: #7f7f7f; stroke: #7f7f7f"/>
    </g>
   </g>
   <g id="PathCollection_99">
    <g clip-path="url(#p9a2cc77dde)">
     <path d="M -3.162278 0 L 3.162278 0 M 0 3.162278 L 0 -3.162278" transform="translate(90.675 383.625)" style="stroke: #bcbd22; stroke-width: 1.5; fill: #bcbd22; stroke: #bcbd22; stroke-width: 1.5"/>
    </g>
   </g>
   <g id="PathCollection_100">
    <g clip-path="url(#p9a2cc77dde)">
     <path d="M 0 -3.162278 L -0.709976 -0.977198 L -3.007505 -0.977198 L -1.148765 0.373256 L -1.85874 2.558336 L -0 1.207883 L 1.85874 2.558336 L 1.148765 0.373256 L 3.007505 -0.977198 L 0.709976 -0.977198 z" transform="translate(99.045 356.625)" style="stroke: #17becf; fill: #17becf; stroke: #17becf"/>
    </g>
   </g>
   <g id="PathCollection_101">
    <g clip-path="url(#p9a2cc77dde)">
     <path d="M -3.162278 0 L 3.162278 0 M 0 3.162278 L 0 -3.162278" transform="translate(149.175 313.875)" style="stroke: #1f77b4; stroke-width: 1.5; fill: #1f77b4; stroke: #1f77b4; stroke-width: 1.5"/>
    </g>
   </g>
   <g id="PathCollection_102">
    <g clip-path="url(#p9a2cc77dde)">
     <path d="M 0 -3.162278 L -0.709976 -0.977198 L -3.007505 -0.977198 L -1.148765 0.373256 L -1.85874 2.558336 L -0 1.207883 L 1.85874 2.558336 L 1.148765 0.373256 L 3.007505 -0.977198 L 0.709976 -0.977198 z" transform="translate(173.1825 273.195)" style="stroke: #ff7f0e; fill: #ff7f0e; stroke: #ff7f0e"/>
    </g>
   </g>
   <g id="PathCollection_103">
    <g clip-path="url(#p9a2cc77dde)">
     <path d="M -3.162278 0 L 3.162278 0 M 0 3.162278 L 0 -3.162278" transform="translate(89.325 395.325)" style="stroke: #2ca02c; stroke-width: 1.5; fill: #2ca02c; stroke: #2ca02c; stroke-width: 1.5"/>
    </g>
   </g>
   <g id="PathCollection_104">
    <g clip-path="url(#p9a2cc77dde)">
     <path d="M 0 -3.162278 L -0.709976 -0.977198 L -3.007505 -0.977198 L -1.148765 0.373256 L -1.85874 2.558336 L -0 1.207883 L 1.85874 2.558336 L 1.148765 0.373256 L 3.007505 -0.977198 L 0.709976 -0.977198 z" transform="translate(94.275 383.13)" style="stroke: #d62728; fill: #d62728; stroke: #d62728"/>
    </g>
   </g>
   <g id="PathCollection_105">
    <g clip-path="url(#p9a2cc77dde)">
     <path d="M -3.162278 0 L 3.162278 0 M 0 3.162278 L 0 -3.162278" transform="translate(125.325 397.125)" style="stroke: #9467bd; stroke-width: 1.5; fill: #9467bd; stroke: #9467bd; stroke-width: 1.5"/>
    </g>
   </g>
   <g id="PathCollection_106">
    <g clip-path="url(#p9a2cc77dde)">
     <path d="M 0 -3.162278 L -0.709976 -0.977198 L -3.007505 -0.977198 L -1.148765 0.373256 L -1.85874 2.558336 L -0 1.207883 L 1.85874 2.558336 L 1.148765 0.373256 L 3.007505 -0.977198 L 0.709976 -0.977198 z" transform="translate(128.61 395.46)" style="stroke: #8c564b; fill: #8c564b; stroke: #8c564b"/>
    </g>
   </g>
   <g id="PathCollection_107">
    <g clip-path="url(#p9a2cc77dde)">
     <path d="M -3.162278 0 L 3.162278 0 M 0 3.162278 L 0 -3.162278" transform="translate(80.325 303.525)" style="stroke: #e377c2; stroke-width: 1.5; fill: #e377c2; stroke: #e377c2; stroke-width: 1.5"/>
    </g>
   </g>
   <g id="PathCollection_108">
    <g clip-path="url(#p9a2cc77dde)">
     <path d="M 0 -3.162278 L -0.709976 -0.977198 L -3.007505 -0.977198 L -1.148765 0.373256 L -1.85874 2.558336 L -0 1.207883 L 1.85874 2.558336 L 1.148765 0.373256 L 3.007505 -0.977198 L 0.709976 -0.977198 z" transform="translate(85.095 261.225)" style="stroke: #7f7f7f; fill: #7f7f7f; stroke: #7f7f7f"/>
    </g>
   </g>
   <g id="PathCollection_109">
    <g clip-path="url(#p9a2cc77dde)">
     <path d="M -3.162278 0 L 3.162278 0 M 0 3.162278 L 0 -3.162278" transform="translate(209.025 380.925)" style="stroke: #bcbd22; stroke-width: 1.5; fill: #bcbd22; stroke: #bcbd22; stroke-width: 1.5"/>
    </g>
   </g>
   <g id="PathCollection_110">
    <g clip-path="url(#p9a2cc77dde)">
     <path d="M 0 -3.162278 L -0.709976 -0.977198 L -3.007505 -0.977198 L -1.148765 0.373256 L -1.85874 2.558336 L -0 1.207883 L 1.85874 2.558336 L 1.148765 0.373256 L 3.007505 -0.977198 L 0.709976 -0.977198 z" transform="translate(259.245 374.625)" style="stroke: #17becf; fill: #17becf; stroke: #17becf"/>
    </g>
   </g>
   <g id="PathCollection_111">
    <g clip-path="url(#p9a2cc77dde)">
     <path d="M -3.162278 0 L 3.162278 0 M 0 3.162278 L 0 -3.162278" transform="translate(128.025 315.225)" style="stroke: #1f77b4; stroke-width: 1.5; fill: #1f77b4; stroke: #1f77b4; stroke-width: 1.5"/>
    </g>
   </g>
   <g id="PathCollection_112">
    <g clip-path="url(#p9a2cc77dde)">
     <path d="M 0 -3.162278 L -0.709976 -0.977198 L -3.007505 -0.977198 L -1.148765 0.373256 L -1.85874 2.558336 L -0 1.207883 L 1.85874 2.558336 L 1.148765 0.373256 L 3.007505 -0.977198 L 0.709976 -0.977198 z" transform="translate(141.0075 279.45)" style="stroke: #ff7f0e; fill: #ff7f0e; stroke: #ff7f0e"/>
    </g>
   </g>
   <g id="PathCollection_113">
    <g clip-path="url(#p9a2cc77dde)">
     <path d="M -3.162278 0 L 3.162278 0 M 0 3.162278 L 0 -3.162278" transform="translate(103.725 383.175)" style="stroke: #2ca02c; stroke-width: 1.5; fill: #2ca02c; stroke: #2ca02c; stroke-width: 1.5"/>
    </g>
   </g>
   <g id="PathCollection_114">
    <g clip-path="url(#p9a2cc77dde)">
     <path d="M 0 -3.162278 L -0.709976 -0.977198 L -3.007505 -0.977198 L -1.148765 0.373256 L -1.85874 2.558336 L -0 1.207883 L 1.85874 2.558336 L 1.148765 0.373256 L 3.007505 -0.977198 L 0.709976 -0.977198 z" transform="translate(110.07 364.725)" style="stroke: #d62728; fill: #d62728; stroke: #d62728"/>
    </g>
   </g>
   <g id="matplotlib.axis_1">
    <g id="xtick_1">
     <g id="line2d_1">
      <path d="M 64.35 462.15 L 64.35 27" clip-path="url(#p9a2cc77dde)" style="fill: none; stroke: #b0b0b0; stroke-width: 0.9; stroke-linecap: square"/>
     </g>
     <g id="line2d_2">
      <g>
       <path d="M 0 0 L 0 3.5" transform="translate(64.35 462.15)" style="stroke: #000000; stroke-width: 0.9; stroke: #000000; stroke-width: 0.9"/>
      </g>
     </g>
     <g id="text_1">
      <text style="font-size: 10px; font-family: 'DejaVu Sans', sans-serif; text-anchor: middle" x="64.35" y="476.05" textLength="15.975" lengthAdjust="spacing">0.0</text>
     </g>
    </g>
    <g id="xtick_2">
     <g id="line2d_3">
      <path d="M 162.45 462.15 L 162.45 27" clip-path="url(#p9a2cc77dde)" style="fill: none; stroke: #b0b0b0; stroke-width: 0.9; stroke-linecap: square"/>
     </g>
     <g id="line2d_4">
      <g>
       <path d="M 0 0 L 0 3.5" transform="translate(162.45 462.15)" style="stroke: #000000; stroke-width: 0.9; stroke: #000000; stroke-width: 0.9"/>
      </g>
     </g>
     <g id="text_2">
      <text style="font-size: 10px; font-family: 'DejaVu Sans', sans-serif; text-anchor: middle" x="162.45" y="476.05" textLength="15.919" lengthAdjust="spacing">0.2</text>
     </g>
    </g>
    <g id="xtick_3">
     <g id="line2d_5">
      <path d="M 260.55 462.15 L 260.55 27" clip-path="url(#p9a2cc77dde)" style="fill: none; stroke: #b0b0b0; stroke-width: 0.9; stroke-linecap: square"/>
     </g>
     <g id="line2d_6">
      <g>
       <path d="M 0 0 L 0 3.5" transform="translate(260.55 462.15)" style="stroke: #000000; stroke-width: 0.9; stroke: #000000; stroke-width: 0.9"/>
      </g>
     </g>
     <g id="text_3">
      <text style="font-size: 10px; font-family: 'DejaVu Sans', sans-serif; text-anchor: middle" x="260.55" y="476.05" textLength="15.919" lengthAdjust="spacing">0.4</text>
     </g>
    </g>
    <g id="xtick_4">
     <g id="line2d_7">
      <path d="M 358.65 462.15 L 358.65 27" clip-path="url(#p9a2cc77dde)" style="fill: none; stroke: #b0b0b0; stroke-width: 0.9; stroke-linecap: square"/>
     </g>
     <g id="line2d_8">
      <g>
       <path d="M 0 0 L 0 3.5" transform="translate(358.65 462.15)" style="stroke: #000000; stroke-width: 0.9; stroke: #000000; stroke-width: 0.9"/>
      </g>
     </g>
     <g id="text_4">
      <text style="font-size: 10px; font-family: 'DejaVu Sans', sans-serif; text-anchor: middle" x="358.65" y="476.05" textLength="15.919" lengthAdjust="spacing">0.6</text>
     </g>
    </g>
    <g id="xtick_5">
     <g id="line2d_9">
      <path d="M 456.75 462.15 L 456.75 27" clip-path="url(#p9a2cc77dde)" style="fill: none; stroke: #b0b0b0; stroke-width: 0.9; stroke-linecap: square"/>
     </g>
     <g id="line2d_10">
      <g>
       <path d="M 0 0 L 0 3.5" transform="translate(456.75 462.15)" style="stroke: #000000; stroke-width: 0.9; stroke: #000000; stroke-width: 0.9"/>
      </g>
     </g>
     <g id="text_5">
      <text style="font-size: 10px; font-family: 'DejaVu Sans', sans-serif; text-anchor: middle" x="456.75" y="476.05" textLength="15.919" lengthAdjust="spacing">0.8</text>
     </g>
    </g>
    <g id="xtick_6">
     <g id="line2d_11">
      <path d="M 555.3 462.15 L 555.3 27" clip-path="url(#p9a2cc77dde)" style="fill: none; stroke: #b0b0b0; stroke-width: 0.9; stroke-linecap: square"/>
     </g>
     <g id="line2d_12">
      <g>
       <path d="M 0 0 L 0 3.5" transform="translate(555.3 462.15)" style="stroke: #000000; stroke-width: 0.9; stroke: #000000; stroke-width: 0.9"/>
      </g>
     </g>
     <g id="text_6">
      <text style="font-size: 10px; font-family: 'DejaVu Sans', sans-serif; text-anchor: middle" x="555.3" y="476.05" textLength="15.919" lengthAdjust="spacing">1.0</text>
     </g>
    </g>
    <g id="text_7">
     <text style="font-size: 10px; font-family: 'DejaVu Sans', sans-serif; text-anchor: middle" x="306.45" y="489.05" textLength="70.144" lengthAdjust="spacing">TMscore fold1</text>
    </g>
   </g>
   <g id="matplotlib.axis_2">
    <g id="ytick_1">
     <g id="line2d_13">
      <path d="M 47.7 448.2 L 565.2 448.2" clip-path="url(#p9a2cc77dde)" style="fill: none; stroke: #b0b0b0; stroke-width: 0.9; stroke-linecap: square"/>
     </g>
     <g id="line2d_14">
      <g>
       <path d="M 0 0 L -3.5 0" transform="translate(47.7 448.2)" style="stroke: #000000; stroke-width: 0.9; stroke: #000000; stroke-width: 0.9"/>
      </g>
     </g>
     <g id="text_8">
      <text style="font-size: 10px; font-family: 'DejaVu Sans', sans-serif; text-anchor: end" x="40.7" y="451.8" textLength="15.975" lengthAdjust="spacing">0.0</text>
     </g>
    </g>
    <g id="ytick_2">
     <g id="line2d_15">
      <path d="M 47.7 366.3 L 565.2 366.3" clip-path="url(#p9a2cc77dde)" style="fill: none; stroke: #b0b0b0; stroke-width: 0.9; stroke-linecap: square"/>
     </g>
     <g id="line2d_16">
      <g>
       <path d="M 0 0 L -3.5 0" transform="translate(47.7 366.3)" style="stroke: #000000; stroke-width: 0.9; stroke: #000000; stroke-width: 0.9"/>
      </g>
     </g>
     <g id="text_9">
      <text style="font-size: 10px; font-family: 'DejaVu Sans', sans-serif; text-anchor: end" x="40.7" y="369.9" textLength="15.919" lengthAdjust="spacing">0.2</text>
     </g>
    </g>
    <g id="ytick_3">
     <g id="line2d_17">
      <path d="M 47.7 284.4 L 565.2 284.4" clip-path="url(#p9a2cc77dde)" style="fill: none; stroke: #b0b0b0; stroke-width: 0.9; stroke-linecap: square"/>
     </g>
     <g id="line2d_18">
      <g>
       <path d="M 0 0 L -3.5 0" transform="translate(47.7 284.4)" style="stroke: #000000; stroke-width: 0.9; stroke: #000000; stroke-width: 0.9"/>
      </g>
     </g>
     <g id="text_10">
      <text style="font-size: 10px; font-family: 'DejaVu Sans', sans-serif; text-anchor: end" x="40.7" y="288" textLength="15.919" lengthAdjust="spacing">0.4</text>
     </g>
    </g>
    <g id="ytick_4">
     <g id="line2d_19">
      <path d="M 47.7 202.5 L 565.2 202.5" clip-path="url(#p9a2cc77dde)" style="fill: none; stroke: #b0b0b0; stroke-width: 0.9; stroke-linecap: square"/>
     </g>
     <g id="line2d_20">
      <g>
       <path d="M 0 0 L -3.5 0" transform="translate(47.7 202.5)" style="stroke: #000000; stroke-width: 0.9; stroke: #000000; stroke-width: 0.9"/>
      </g>
     </g>
     <g id="text_11">
      <text style="font-size: 10px; font-family: 'DejaVu Sans', sans-serif; text-anchor: end" x="40.7" y="206.1" textLength="15.919" lengthAdjust="spacing">0.6</text>
     </g>
    </g>
    <g id="ytick_5">
     <g id="line2d_21">
      <path d="M 47.7 120.6 L 565.2 120.6" clip-path="url(#p9a2cc77dde)" style="fill: none; stroke: #b0b0b0; stroke-width: 0.9; stroke-linecap: square"/>
     </g>
     <g id="line2d_22">
      <g>
       <path d="M 0 0 L -3.5 0" transform="translate(47.7 120.6)" style="stroke: #000000; stroke-width: 0.9; stroke: #000000; stroke-width: 0.9"/>
      </g>
     </g>
     <g id="text_12">
      <text style="font-size: 10px; font-family: 'DejaVu Sans', sans-serif; text-anchor: end" x="40.7" y="124.2" textLength="15.919" lengthAdjust="spacing">0.8</text>
     </g>
    </g>
    <g id="ytick_6">
     <g id="line2d_23">
      <path d="M 47.7 38.7 L 565.2 38.7" clip-path="url(#p9a2cc77dde)" style="fill: none; stroke: #b0b0b0; stroke-width: 0.9; stroke-linecap: square"/>
     </g>
     <g id="line2d_24">
      <g>
       <path d="M 0 0 L -3.5 0" transform="translate(47.7 38.7)" style="stroke: #000000; stroke-width: 0.9; stroke: #000000; stroke-width: 0.9"/>
      </g>
     </g>
     <g id="text_13">
      <text style="font-size: 10px; font-family: 'DejaVu Sans', sans-serif; text-anchor: end" x="40.7" y="42.3" textLength="15.919" lengthAdjust="spacing">1.0</text>
     </g>
    </g>
    <g id="text_14">
     <text style="font-size: 10px; font-family: 'DejaVu Sans', sans-serif; text-anchor: middle" x="18.925" y="244.575" transform="rotate(-90 18.925 244.575)" textLength="70.144" lengthAdjust="spacing">TMscore fold2</text>
    </g>
   </g>
   <g id="line2d_25">
    <path d="M 165.825 421.875 L 184.635 416.43" clip-path="url(#p9a2cc77dde)" style="fill: none; stroke-dasharray: 5.55,2.4; stroke-dashoffset: 0; stroke: #808080; stroke-opacity: 0.5; stroke-width: 1.5"/>
   </g>
   <g id="line2d_26">
    <path d="M 297.225 189.675 L 352.0575 111.6" clip-path="url(#p9a2cc77dde)" style="fill: none; stroke-dasharray: 5.55,2.4; stroke-dashoffset: 0; stroke: #808080; stroke-opacity: 0.5; stroke-width: 1.5"/>
   </g>
   <g id="line2d_27">
    <path d="M 96.075 442.575 L 102.7575 441.7875" clip-path="url(#p9a2cc77dde)" style="fill: none; stroke-dasharray: 5.55,2.4; stroke-dashoffset: 0; stroke: #808080; stroke-opacity: 0.5; stroke-width: 1.5"/>
   </g>
   <g id="line2d_28">
    <path d="M 292.275 279.225 L 353.025 216.54" clip-path="url(#p9a2cc77dde)" style="fill: none; stroke-dasharray: 5.55,2.4; stroke-dashoffset: 0; stroke: #808080; stroke-opacity: 0.5; stroke-width: 1.5"/>
   </g>
   <g id="line2d_29">
    <path d="M 150.525 376.875 L 162.495 366.75" clip-path="url(#p9a2cc77dde)" style="fill: none; stroke-dasharray: 5.55,2.4; stroke-dashoffset: 0; stroke: #808080; stroke-opacity: 0.5; stroke-width: 1.5"/>
   </g>
   <g id="line2d_30">
    <path d="M 281.925 266.625 L 357.84 207.09" clip-path="url(#p9a2cc77dde)" style="fill: none; stroke-dasharray: 5.55,2.4; stroke-dashoffset: 0; stroke: #808080; stroke-opacity: 0.5; stroke-width: 1.5"/>
   </g>
   <g id="line2d_31">
    <path d="M 294.975 291.375 L 324.18 251.145" clip-path="url(#p9a2cc77dde)" style="fill: none; stroke-dasharray: 5.55,2.4; stroke-dashoffset: 0; stroke: #808080; stroke-opacity: 0.5; stroke-width: 1.5"/>
   </g>
   <g id="line2d_32">
    <path d="M 170.775 291.825 L 218.07 228.6" clip-path="url(#p9a2cc77dde)" style="fill: none; stroke-dasharray: 5.55,2.4; stroke-dashoffset: 0; stroke: #808080; stroke-opacity: 0.5; stroke-width: 1.5"/>
   </g>
   <g id="line2d_33">
    <path d="M 218.475 353.475 L 299.8575 341.325" clip-path="url(#p9a2cc77dde)" style="fill: none; stroke-dasharray: 5.55,2.4; stroke-dashoffset: 0; stroke: #808080; stroke-opacity: 0.5; stroke-width: 1.5"/>
   </g>
   <g id="line2d_34">
    <path d="M 231.075 397.125 L 258.9075 390.825" clip-path="url(#p9a2cc77dde)" style="fill: none; stroke-dasharray: 5.55,2.4; stroke-dashoffset: 0; stroke: #808080; stroke-opacity: 0.5; stroke-width: 1.5"/>
   </g>
   <g id="line2d_35">
    <path d="M 116.325 440.325 L 150.9075 436.185" clip-path="url(#p9a2cc77dde)" style="fill: none; stroke-dasharray: 5.55,2.4; stroke-dashoffset: 0; stroke: #808080; stroke-opacity: 0.5; stroke-width: 1.5"/>
   </g>
   <g id="line2d_36">
    <path d="M 304.875 377.325 L 324.1575 355.95" clip-path="url(#p9a2cc77dde)" style="fill: none; stroke-dasharray: 5.55,2.4; stroke-dashoffset: 0; stroke: #808080; stroke-opacity: 0.5; stroke-width: 1.5"/>
   </g>
   <g id="line2d_37">
    <path d="M 288.675 433.575 L 300.3075 430.9875" clip-path="url(#p9a2cc77dde)" style="fill: none; stroke-dasharray: 5.55,2.4; stroke-dashoffset: 0; stroke: #808080; stroke-opacity: 0.5; stroke-width: 1.5"/>
   </g>
   <g id="line2d_38">
    <path d="M 194.175 314.325 L 216.3825 259.65" clip-path="url(#p9a2cc77dde)" style="fill: none; stroke-dasharray: 5.55,2.4; stroke-dashoffset: 0; stroke: #808080; stroke-opacity: 0.5; stroke-width: 1.5"/>
   </g>
   <g id="line2d_39">
    <path d="M 85.725 401.625 L 90.72 391.68" clip-path="url(#p9a2cc77dde)" style="fill: none; stroke-dasharray: 5.55,2.4; stroke-dashoffset: 0; stroke: #808080; stroke-opacity: 0.5; stroke-width: 1.5"/>
   </g>
   <g id="line2d_40">
    <path d="M 82.125 440.325 L 89.82 437.985" clip-path="url(#p9a2cc77dde)" style="fill: none; stroke-dasharray: 5.55,2.4; stroke-dashoffset: 0; stroke: #808080; stroke-opacity: 0.5; stroke-width: 1.5"/>
   </g>
   <g id="line2d_41">
    <path d="M 81.225 398.475 L 84.285 389.025" clip-path="url(#p9a2cc77dde)" style="fill: none; stroke-dasharray: 5.55,2.4; stroke-dashoffset: 0; stroke: #808080; stroke-opacity: 0.5; stroke-width: 1.5"/>
   </g>
   <g id="line2d_42">
    <path d="M 72.675 429.525 L 75.96 423.27" clip-path="url(#p9a2cc77dde)" style="fill: none; stroke-dasharray: 5.55,2.4; stroke-dashoffset: 0; stroke: #808080; stroke-opacity: 0.5; stroke-width: 1.5"/>
   </g>
   <g id="line2d_43">
    <path d="M 82.575 433.125 L 86.04 430.425" clip-path="url(#p9a2cc77dde)" style="fill: none; stroke-dasharray: 5.55,2.4; stroke-dashoffset: 0; stroke: #808080; stroke-opacity: 0.5; stroke-width: 1.5"/>
   </g>
   <g id="line2d_44">
    <path d="M 92.475 253.575 L 99.225 173.835" clip-path="url(#p9a2cc77dde)" style="fill: none; stroke-dasharray: 5.55,2.4; stroke-dashoffset: 0; stroke: #808080; stroke-opacity: 0.5; stroke-width: 1.5"/>
   </g>
   <g id="line2d_45">
    <path d="M 83.475 402.975 L 87.84 393.57" clip-path="url(#p9a2cc77dde)" style="fill: none; stroke-dasharray: 5.55,2.4; stroke-dashoffset: 0; stroke: #808080; stroke-opacity: 0.5; stroke-width: 1.5"/>
   </g>
   <g id="line2d_46">
    <path d="M 89.325 434.475 L 93.825 430.56" clip-path="url(#p9a2cc77dde)" style="fill: none; stroke-dasharray: 5.55,2.4; stroke-dashoffset: 0; stroke: #808080; stroke-opacity: 0.5; stroke-width: 1.5"/>
   </g>
   <g id="line2d_47">
    <path d="M 81.225 426.375 L 83.835 422.865" clip-path="url(#p9a2cc77dde)" style="fill: none; stroke-dasharray: 5.55,2.4; stroke-dashoffset: 0; stroke: #808080; stroke-opacity: 0.5; stroke-width: 1.5"/>
   </g>
   <g id="line2d_48">
    <path d="M 174.375 356.625 L 185.445 347.7375" clip-path="url(#p9a2cc77dde)" style="fill: none; stroke-dasharray: 5.55,2.4; stroke-dashoffset: 0; stroke: #808080; stroke-opacity: 0.5; stroke-width: 1.5"/>
   </g>
   <g id="line2d_49">
    <path d="M 253.125 294.525 L 311.985 253.89" clip-path="url(#p9a2cc77dde)" style="fill: none; stroke-dasharray: 5.55,2.4; stroke-dashoffset: 0; stroke: #808080; stroke-opacity: 0.5; stroke-width: 1.5"/>
   </g>
   <g id="line2d_50">
    <path d="M 397.125 257.625 L 542.025 178.83" clip-path="url(#p9a2cc77dde)" style="fill: none; stroke-dasharray: 5.55,2.4; stroke-dashoffset: 0; stroke: #808080; stroke-opacity: 0.5; stroke-width: 1.5"/>
   </g>
   <g id="line2d_51">
    <path d="M 114.075 412.425 L 128.025 390.105" clip-path="url(#p9a2cc77dde)" style="fill: none; stroke-dasharray: 5.55,2.4; stroke-dashoffset: 0; stroke: #808080; stroke-opacity: 0.5; stroke-width: 1.5"/>
   </g>
   <g id="line2d_52">
    <path d="M 111.375 406.575 L 134.28 390.375" clip-path="url(#p9a2cc77dde)" style="fill: none; stroke-dasharray: 5.55,2.4; stroke-dashoffset: 0; stroke: #808080; stroke-opacity: 0.5; stroke-width: 1.5"/>
   </g>
   <g id="line2d_53">
    <path d="M 88.875 337.725 L 95.22 323.1" clip-path="url(#p9a2cc77dde)" style="fill: none; stroke-dasharray: 5.55,2.4; stroke-dashoffset: 0; stroke: #808080; stroke-opacity: 0.5; stroke-width: 1.5"/>
   </g>
   <g id="line2d_54">
    <path d="M 222.975 128.925 L 309.78 68.445" clip-path="url(#p9a2cc77dde)" style="fill: none; stroke-dasharray: 5.55,2.4; stroke-dashoffset: 0; stroke: #808080; stroke-opacity: 0.5; stroke-width: 1.5"/>
   </g>
   <g id="line2d_55">
    <path d="M 276.525 353.925 L 319.8825 310.275" clip-path="url(#p9a2cc77dde)" style="fill: none; stroke-dasharray: 5.55,2.4; stroke-dashoffset: 0; stroke: #808080; stroke-opacity: 0.5; stroke-width: 1.5"/>
   </g>
   <g id="line2d_56">
    <path d="M 145.575 389.475 L 190.7325 354.9375" clip-path="url(#p9a2cc77dde)" style="fill: none; stroke-dasharray: 5.55,2.4; stroke-dashoffset: 0; stroke: #808080; stroke-opacity: 0.5; stroke-width: 1.5"/>
   </g>
   <g id="line2d_57">
    <path d="M 308.475 362.475 L 344.4075 341.4375" clip-path="url(#p9a2cc77dde)" style="fill: none; stroke-dasharray: 5.55,2.4; stroke-dashoffset: 0; stroke: #808080; stroke-opacity: 0.5; stroke-width: 1.5"/>
   </g>
   <g id="line2d_58">
    <path d="M 283.725 413.775 L 301.095 404.505" clip-path="url(#p9a2cc77dde)" style="fill: none; stroke-dasharray: 5.55,2.4; stroke-dashoffset: 0; stroke: #808080; stroke-opacity: 0.5; stroke-width: 1.5"/>
   </g>
   <g id="line2d_59">
    <path d="M 236.475 431.325 L 258.0075 429.4125" clip-path="url(#p9a2cc77dde)" style="fill: none; stroke-dasharray: 5.55,2.4; stroke-dashoffset: 0; stroke: #808080; stroke-opacity: 0.5; stroke-width: 1.5"/>
   </g>
   <g id="line2d_60">
    <path d="M 245.925 283.275 L 286.02 268.5375" clip-path="url(#p9a2cc77dde)" style="fill: none; stroke-dasharray: 5.55,2.4; stroke-dashoffset: 0; stroke: #808080; stroke-opacity: 0.5; stroke-width: 1.5"/>
   </g>
   <g id="line2d_61">
    <path d="M 275.625 274.275 L 316.485 239.94" clip-path="url(#p9a2cc77dde)" style="fill: none; stroke-dasharray: 5.55,2.4; stroke-dashoffset: 0; stroke: #808080; stroke-opacity: 0.5; stroke-width: 1.5"/>
   </g>
   <g id="line2d_62">
    <path d="M 326.025 371.025 L 378.1575 356.2875" clip-path="url(#p9a2cc77dde)" style="fill: none; stroke-dasharray: 5.55,2.4; stroke-dashoffset: 0; stroke: #808080; stroke-opacity: 0.5; stroke-width: 1.5"/>
   </g>
   <g id="line2d_63">
    <path d="M 141.975 423.225 L 156.33 415.62" clip-path="url(#p9a2cc77dde)" style="fill: none; stroke-dasharray: 5.55,2.4; stroke-dashoffset: 0; stroke: #808080; stroke-opacity: 0.5; stroke-width: 1.5"/>
   </g>
   <g id="line2d_64">
    <path d="M 417.375 120.825 L 455.445 90.99" clip-path="url(#p9a2cc77dde)" style="fill: none; stroke-dasharray: 5.55,2.4; stroke-dashoffset: 0; stroke: #808080; stroke-opacity: 0.5; stroke-width: 1.5"/>
   </g>
   <g id="line2d_65">
    <path d="M 70.425 436.725 L 71.325 435.87" clip-path="url(#p9a2cc77dde)" style="fill: none; stroke-dasharray: 5.55,2.4; stroke-dashoffset: 0; stroke: #808080; stroke-opacity: 0.5; stroke-width: 1.5"/>
   </g>
   <g id="line2d_66">
    <path d="M 176.625 272.925 L 183.7575 252.675" clip-path="url(#p9a2cc77dde)" style="fill: none; stroke-dasharray: 5.55,2.4; stroke-dashoffset: 0; stroke: #808080; stroke-opacity: 0.5; stroke-width: 1.5"/>
   </g>
   <g id="line2d_67">
    <path d="M 420.975 132.525 L 499.185 56.7" clip-path="url(#p9a2cc77dde)" style="fill: none; stroke-dasharray: 5.55,2.4; stroke-dashoffset: 0; stroke: #808080; stroke-opacity: 0.5; stroke-width: 1.5"/>
   </g>
   <g id="line2d_68">
    <path d="M 137.925 417.375 L 160.965 405.09" clip-path="url(#p9a2cc77dde)" style="fill: none; stroke-dasharray: 5.55,2.4; stroke-dashoffset: 0; stroke: #808080; stroke-opacity: 0.5; stroke-width: 1.5"/>
   </g>
   <g id="line2d_69">
    <path d="M 345.375 159.075 L 384.525 63.81" clip-path="url(#p9a2cc77dde)" style="fill: none; stroke-dasharray: 5.55,2.4; stroke-dashoffset: 0; stroke: #808080; stroke-opacity: 0.5; stroke-width: 1.5"/>
   </g>
   <g id="line2d_70">
    <path d="M 263.925 281.925 L 268.8075 278.1" clip-path="url(#p9a2cc77dde)" style="fill: none; stroke-dasharray: 5.55,2.4; stroke-dashoffset: 0; stroke: #808080; stroke-opacity: 0.5; stroke-width: 1.5"/>
   </g>
   <g id="line2d_71">
    <path d="M 283.725 96.975 L 339.48 47.25" clip-path="url(#p9a2cc77dde)" style="fill: none; stroke-dasharray: 5.55,2.4; stroke-dashoffset: 0; stroke: #808080; stroke-opacity: 0.5; stroke-width: 1.5"/>
   </g>
   <g id="line2d_72">
    <path d="M 176.625 419.625 L 210.24 409.455" clip-path="url(#p9a2cc77dde)" style="fill: none; stroke-dasharray: 5.55,2.4; stroke-dashoffset: 0; stroke: #808080; stroke-opacity: 0.5; stroke-width: 1.5"/>
   </g>
   <g id="line2d_73">
    <path d="M 146.025 390.375 L 161.82 375.165" clip-path="url(#p9a2cc77dde)" style="fill: none; stroke-dasharray: 5.55,2.4; stroke-dashoffset: 0; stroke: #808080; stroke-opacity: 0.5; stroke-width: 1.5"/>
   </g>
   <g id="line2d_74">
    <path d="M 90.675 383.625 L 99.045 356.625" clip-path="url(#p9a2cc77dde)" style="fill: none; stroke-dasharray: 5.55,2.4; stroke-dashoffset: 0; stroke: #808080; stroke-opacity: 0.5; stroke-width: 1.5"/>
   </g>
   <g id="line2d_75">
    <path d="M 149.175 313.875 L 173.1825 273.195" clip-path="url(#p9a2cc77dde)" style="fill: none; stroke-dasharray: 5.55,2.4; stroke-dashoffset: 0; stroke: #808080; stroke-opacity: 0.5; stroke-width: 1.5"/>
   </g>
   <g id="line2d_76">
    <path d="M 89.325 395.325 L 94.275 383.13" clip-path="url(#p9a2cc77dde)" style="fill: none; stroke-dasharray: 5.55,2.4; stroke-dashoffset: 0; stroke: #808080; stroke-opacity: 0.5; stroke-width: 1.5"/>
   </g>
   <g id="line2d_77">
    <path d="M 125.325 397.125 L 128.61 395.46" clip-path="url(#p9a2cc77dde)" style="fill: none; stroke-dasharray: 5.55,2.4; stroke-dashoffset: 0; stroke: #808080; stroke-opacity: 0.5; stroke-width: 1.5"/>
   </g>
   <g id="line2d_78">
    <path d="M 80.325 303.525 L 85.095 261.225" clip-path="url(#p9a2cc77dde)" style="fill: none; stroke-dasharray: 5.55,2.4; stroke-dashoffset: 0; stroke: #808080; stroke-opacity: 0.5; stroke-width: 1.5"/>
   </g>
   <g id="line2d_79">
    <path d="M 209.025 380.925 L 259.245 374.625" clip-path="url(#p9a2cc77dde)" style="fill: none; stroke-dasharray: 5.55,2.4; stroke-dashoffset: 0; stroke: #808080; stroke-opacity: 0.5; stroke-width: 1.5"/>
   </g>
   <g id="line2d_80">
    <path d="M 128.025 315.225 L 141.0075 279.45" clip-path="url(#p9a2cc77dde)" style="fill: none; stroke-dasharray: 5.55,2.4; stroke-dashoffset: 0; stroke: #808080; stroke-opacity: 0.5; stroke-width: 1.5"/>
   </g>
   <g id="line2d_81">
    <path d="M 103.725 383.175 L 110.07 364.725" clip-path="url(#p9a2cc77dde)" style="fill: none; stroke-dasharray: 5.55,2.4; stroke-dashoffset: 0; stroke: #808080; stroke-opacity: 0.5; stroke-width: 1.5"/>
   </g>
   <g id="patch_3">
    <path d="M 47.7 462.15 L 47.7 27" style="fill: none; stroke: #000000; stroke-width: 0.9; stroke-linejoin: miter; stroke-linecap: square"/>
   </g>
   <g id="patch_4">
    <path d="M 565.2 462.15 L 565.2 27" style="fill: none; stroke: #000000; stroke-width: 0.9; stroke-linejoin: miter; stroke-linecap: square"/>
   </g>
   <g id="patch_5">
    <path d="M 47.7 462.15 L 565.2 462.15" style="fill: none; stroke: #000000; stroke-width: 0.9; stroke-linejoin: miter; stroke-linecap: square"/>
   </g>
   <g id="patch_6">
    <path d="M 47.7 27 L 565.2 27" style="fill: none; stroke: #000000; stroke-width: 0.9; stroke-linejoin: miter; stroke-linecap: square"/>
   </g>
   <g id="text_15">
    <text style="font-size: 7px; font-family: 'DejaVu Sans', sans-serif; text-anchor: end" x="184.185" y="416.205" textLength="42.581" lengthAdjust="spacing">1eboE_5fhcJ</text>
   </g>
   <g id="text_16">
    <text style="font-size: 7px; font-family: 'DejaVu Sans', sans-serif; text-anchor: end" x="351.6075" y="111.375" textLength="42.581" lengthAdjust="spacing">1fzpD_2frhA</text>
   </g>
   <g id="text_17">
    <text style="font-size: 7px; font-family: 'DejaVu Sans', sans-serif; text-anchor: end" x="102.3075" y="441.5625" textLength="42.806" lengthAdjust="spacing">1iytA_2naoF</text>
   </g>
   <g id="text_18">
    <text style="font-size: 7px; font-family: 'DejaVu Sans', sans-serif; text-anchor: end" x="352.575" y="216.315" textLength="43.312" lengthAdjust="spacing">1jfkA_2nxqB</text>
   </g>
   <g id="text_19">
    <text style="font-size: 7px; font-family: 'DejaVu Sans', sans-serif; text-anchor: end" x="162.045" y="366.525" textLength="58.388" lengthAdjust="spacing">1mnmD_1mnmC</text>
   </g>
   <g id="text_20">
    <text style="font-size: 7px; font-family: 'DejaVu Sans', sans-serif; text-anchor: end" x="357.39" y="206.865" textLength="46.013" lengthAdjust="spacing">1nqjB_1nqdA</text>
   </g>
   <g id="text_21">
    <text style="font-size: 7px; font-family: 'DejaVu Sans', sans-serif; text-anchor: end" x="323.73" y="250.92" textLength="44.325" lengthAdjust="spacing">1nrjB_2gedB</text>
   </g>
   <g id="text_22">
    <text style="font-size: 7px; font-family: 'DejaVu Sans', sans-serif; text-anchor: end" x="217.62" y="228.375" textLength="48.038" lengthAdjust="spacing">1qb3A_3qy2A</text>
   </g>
   <g id="text_23">
    <text style="font-size: 7px; font-family: 'DejaVu Sans', sans-serif; text-anchor: end" x="299.4075" y="341.1" textLength="46.125" lengthAdjust="spacing">1svfC_4wsgC</text>
   </g>
   <g id="text_24">
    <text style="font-size: 7px; font-family: 'DejaVu Sans', sans-serif; text-anchor: end" x="258.4575" y="390.6" textLength="47.419" lengthAdjust="spacing">1wp8C_5ejbC</text>
   </g>
   <g id="text_25">
    <text style="font-size: 7px; font-family: 'DejaVu Sans', sans-serif; text-anchor: end" x="150.4575" y="435.96" textLength="45.225" lengthAdjust="spacing">1xtgB_3j97M</text>
   </g>
   <g id="text_26">
    <text style="font-size: 7px; font-family: 'DejaVu Sans', sans-serif; text-anchor: end" x="323.7075" y="355.725" textLength="44.494" lengthAdjust="spacing">1zk9A_3jv6A</text>
   </g>
   <g id="text_27">
    <text style="font-size: 7px; font-family: 'DejaVu Sans', sans-serif; text-anchor: end" x="299.8575" y="430.7625" textLength="46.069" lengthAdjust="spacing">2bzyB_2lqwA</text>
   </g>
   <g id="text_28">
    <text style="font-size: 7px; font-family: 'DejaVu Sans', sans-serif; text-anchor: end" x="215.9325" y="259.425" textLength="47.756" lengthAdjust="spacing">2grmB_2axzA</text>
   </g>
   <g id="text_29">
    <text style="font-size: 7px; font-family: 'DejaVu Sans', sans-serif; text-anchor: end" x="90.27" y="391.455" textLength="43.312" lengthAdjust="spacing">2jmrA_4j3oF</text>
   </g>
   <g id="text_30">
    <text style="font-size: 7px; font-family: 'DejaVu Sans', sans-serif; text-anchor: end" x="89.37" y="437.76" textLength="47.194" lengthAdjust="spacing">2k42A_1ceeB</text>
   </g>
   <g id="text_31">
    <text style="font-size: 7px; font-family: 'DejaVu Sans', sans-serif; text-anchor: end" x="83.835" y="388.8" textLength="48.938" lengthAdjust="spacing">2kb8A_6vw2A</text>
   </g>
   <g id="text_32">
    <text style="font-size: 7px; font-family: 'DejaVu Sans', sans-serif; text-anchor: end" x="75.51" y="423.045" textLength="49.275" lengthAdjust="spacing">2kkwA_2n0aD</text>
   </g>
   <g id="text_33">
    <text style="font-size: 7px; font-family: 'DejaVu Sans', sans-serif; text-anchor: end" x="85.59" y="430.2" textLength="42.975" lengthAdjust="spacing">2lelA_2k0qA</text>
   </g>
   <g id="text_34">
    <text style="font-size: 7px; font-family: 'DejaVu Sans', sans-serif; text-anchor: end" x="98.775" y="173.61" textLength="45.956" lengthAdjust="spacing">2lepA_4hddA</text>
   </g>
   <g id="text_35">
    <text style="font-size: 7px; font-family: 'DejaVu Sans', sans-serif; text-anchor: end" x="87.39" y="393.345" textLength="40.725" lengthAdjust="spacing">2lv1A_6lniA</text>
   </g>
   <g id="text_36">
    <text style="font-size: 7px; font-family: 'DejaVu Sans', sans-serif; text-anchor: end" x="93.375" y="430.335" textLength="48.319" lengthAdjust="spacing">2mwfA_2nntA</text>
   </g>
   <g id="text_37">
    <text style="font-size: 7px; font-family: 'DejaVu Sans', sans-serif; text-anchor: end" x="83.385" y="422.64" textLength="50.850" lengthAdjust="spacing">2n54B_2hdmA</text>
   </g>
   <g id="text_38">
    <text style="font-size: 7px; font-family: 'DejaVu Sans', sans-serif; text-anchor: end" x="184.995" y="347.5125" textLength="48.263" lengthAdjust="spacing">2p3vD_2p3vA</text>
   </g>
   <g id="text_39">
    <text style="font-size: 7px; font-family: 'DejaVu Sans', sans-serif; text-anchor: end" x="311.535" y="253.665" textLength="45.619" lengthAdjust="spacing">2pbkB_3njqA</text>
   </g>
   <g id="text_40">
    <text style="font-size: 7px; font-family: 'DejaVu Sans', sans-serif; text-anchor: end" x="541.575" y="178.605" textLength="45.281" lengthAdjust="spacing">2qqjA_4qdsA</text>
   </g>
   <g id="text_41">
    <text style="font-size: 7px; font-family: 'DejaVu Sans', sans-serif; text-anchor: end" x="127.575" y="389.88" textLength="43.987" lengthAdjust="spacing">2uy7D_5fluE</text>
   </g>
   <g id="text_42">
    <text style="font-size: 7px; font-family: 'DejaVu Sans', sans-serif; text-anchor: end" x="133.83" y="390.15" textLength="46.237" lengthAdjust="spacing">2vfxL_3gmhL</text>
   </g>
   <g id="text_43">
    <text style="font-size: 7px; font-family: 'DejaVu Sans', sans-serif; text-anchor: end" x="94.77" y="322.875" textLength="49.163" lengthAdjust="spacing">2wcdX_4phqA</text>
   </g>
   <g id="text_44">
    <text style="font-size: 7px; font-family: 'DejaVu Sans', sans-serif; text-anchor: end" x="309.33" y="68.22" textLength="45.788" lengthAdjust="spacing">2z9oB_1repC</text>
   </g>
   <g id="text_45">
    <text style="font-size: 7px; font-family: 'DejaVu Sans', sans-serif; text-anchor: end" x="319.4325" y="310.05" textLength="46.406" lengthAdjust="spacing">3hdfA_3hdeA</text>
   </g>
   <g id="text_46">
    <text style="font-size: 7px; font-family: 'DejaVu Sans', sans-serif; text-anchor: end" x="190.2825" y="354.7125" textLength="45.056" lengthAdjust="spacing">3j7vG_3j7wB</text>
   </g>
   <g id="text_47">
    <text style="font-size: 7px; font-family: 'DejaVu Sans', sans-serif; text-anchor: end" x="343.9575" y="341.2125" textLength="43.369" lengthAdjust="spacing">3l9qB_4rr2D</text>
   </g>
   <g id="text_48">
    <text style="font-size: 7px; font-family: 'DejaVu Sans', sans-serif; text-anchor: end" x="300.645" y="404.28" textLength="48.544" lengthAdjust="spacing">3lowA_3m1bF</text>
   </g>
   <g id="text_49">
    <text style="font-size: 7px; font-family: 'DejaVu Sans', sans-serif; text-anchor: end" x="257.5575" y="429.1875" textLength="43.312" lengthAdjust="spacing">3lqcA_1xntA</text>
   </g>
   <g id="text_50">
    <text style="font-size: 7px; font-family: 'DejaVu Sans', sans-serif; text-anchor: end" x="285.57" y="268.3125" textLength="48.206" lengthAdjust="spacing">3m7pA_3ejhA</text>
   </g>
   <g id="text_51">
    <text style="font-size: 7px; font-family: 'DejaVu Sans', sans-serif; text-anchor: end" x="316.035" y="239.715" textLength="50.400" lengthAdjust="spacing">3meeA_4b3oB</text>
   </g>
   <g id="text_52">
    <text style="font-size: 7px; font-family: 'DejaVu Sans', sans-serif; text-anchor: end" x="377.7075" y="356.0625" textLength="47.531" lengthAdjust="spacing">3mkoA_5ineA</text>
   </g>
   <g id="text_53">
    <text style="font-size: 7px; font-family: 'DejaVu Sans', sans-serif; text-anchor: end" x="155.88" y="415.395" textLength="43.481" lengthAdjust="spacing">3r9jC_2kxoA</text>
   </g>
   <g id="text_54">
    <text style="font-size: 7px; font-family: 'DejaVu Sans', sans-serif; text-anchor: end" x="454.995" y="90.765" textLength="44.606" lengthAdjust="spacing">4dxrA_4dxtA</text>
   </g>
   <g id="text_55">
    <text style="font-size: 7px; font-family: 'DejaVu Sans', sans-serif; text-anchor: end" x="70.875" y="435.645" textLength="46.744" lengthAdjust="spacing">4g0dZ_4fu4C</text>
   </g>
   <g id="text_56">
    <text style="font-size: 7px; font-family: 'DejaVu Sans', sans-serif; text-anchor: end" x="183.3075" y="252.45" textLength="49.331" lengthAdjust="spacing">4ow6B_4ae0A</text>
   </g>
   <g id="text_57">
    <text style="font-size: 7px; font-family: 'DejaVu Sans', sans-serif; text-anchor: end" x="498.735" y="56.475" textLength="42.975" lengthAdjust="spacing">4pyjA_4pyiA</text>
   </g>
   <g id="text_58">
    <text style="font-size: 7px; font-family: 'DejaVu Sans', sans-serif; text-anchor: end" x="160.515" y="404.865" textLength="48.038" lengthAdjust="spacing">4q79F_4uv2D</text>
   </g>
   <g id="text_59">
    <text style="font-size: 7px; font-family: 'DejaVu Sans', sans-serif; text-anchor: end" x="384.075" y="63.585" textLength="46.631" lengthAdjust="spacing">4qhhA_4qhfA</text>
   </g>
   <g id="text_60">
    <text style="font-size: 7px; font-family: 'DejaVu Sans', sans-serif; text-anchor: end" x="268.3575" y="277.875" textLength="49.837" lengthAdjust="spacing">4rmbB_4rmbA</text>
   </g>
   <g id="text_61">
    <text style="font-size: 7px; font-family: 'DejaVu Sans', sans-serif; text-anchor: end" x="339.03" y="47.025" textLength="47.925" lengthAdjust="spacing">4rwqB_4rwnA</text>
   </g>
   <g id="text_62">
    <text style="font-size: 7px; font-family: 'DejaVu Sans', sans-serif; text-anchor: end" x="209.79" y="409.23" textLength="47.025" lengthAdjust="spacing">4tsyD_3zwgN</text>
   </g>
   <g id="text_63">
    <text style="font-size: 7px; font-family: 'DejaVu Sans', sans-serif; text-anchor: end" x="161.37" y="374.94" textLength="45.844" lengthAdjust="spacing">4yhdG_7ahlE</text>
   </g>
   <g id="text_64">
    <text style="font-size: 7px; font-family: 'DejaVu Sans', sans-serif; text-anchor: end" x="98.595" y="356.4" textLength="43.706" lengthAdjust="spacing">5c3iF_3kuyA</text>
   </g>
   <g id="text_65">
    <text style="font-size: 7px; font-family: 'DejaVu Sans', sans-serif; text-anchor: end" x="172.7325" y="272.97" textLength="46.294" lengthAdjust="spacing">5hk5H_4jphB</text>
   </g>
   <g id="text_66">
    <text style="font-size: 7px; font-family: 'DejaVu Sans', sans-serif; text-anchor: end" x="93.825" y="382.905" textLength="42.919" lengthAdjust="spacing">5jytA_2qkeE</text>
   </g>
   <g id="text_67">
    <text style="font-size: 7px; font-family: 'DejaVu Sans', sans-serif; text-anchor: end" x="128.16" y="395.235" textLength="44.944" lengthAdjust="spacing">5l35G_5l35D</text>
   </g>
   <g id="text_68">
    <text style="font-size: 7px; font-family: 'DejaVu Sans', sans-serif; text-anchor: end" x="84.645" y="261" textLength="43.031" lengthAdjust="spacing">5lj3M_3tp2A</text>
   </g>
   <g id="text_69">
    <text style="font-size: 7px; font-family: 'DejaVu Sans', sans-serif; text-anchor: end" x="258.795" y="374.4" textLength="45.394" lengthAdjust="spacing">5tpnA_1g2cF</text>
   </g>
   <g id="text_70">
    <text style="font-size: 7px; font-family: 'DejaVu Sans', sans-serif; text-anchor: end" x="140.5575" y="279.225" textLength="48.825" lengthAdjust="spacing">5wrgC_1wyyB</text>
   </g>
   <g id="text_71">
    <text style="font-size: 7px; font-family: 'DejaVu Sans', sans-serif; text-anchor: end" x="109.62" y="364.5" textLength="45.619" lengthAdjust="spacing">7kdtB_6z4uA</text>
   </g>
   <g id="text_72">
    <text style="font-size: 12px; font-family: 'DejaVu Sans', sans-serif; text-anchor: middle" x="306.45" y="20.55" textLength="202.444" lengthAdjust="spacing">Per-pair TM (mean vs max): ESM2</text>
   </g>
   <g id="legend_1">
    <g id="patch_7">
     <path d="M 54.7 63 L 113.925 63 Q 115.925 63 115.925 61 L 115.925 34 Q 115.925 32 113.925 32 L 54.7 32 Q 52.7 32 52.7 34 L 52.7 61 Q 52.7 63 54.7 63 z" style="fill: #ffffff; opacity: 0.8; stroke: #cccccc; stroke-linejoin: miter"/>
    </g>
    <g id="PathCollection_115">
     <g>
      <path d="M -3.162278 0 L 3.162278 0 M 0 3.162278 L 0 -3.162278" transform="translate(66.7 40.575)" style="stroke: #1f77b4; stroke-width: 1.5; fill: #1f77b4; stroke: #1f77b4; stroke-width: 1.5"/>
     </g>
    </g>
    <g id="text_73">
     <text style="font-size: 10px; font-family: 'DejaVu Sans', sans-serif; text-anchor: start" x="84.7" y="43.2" textLength="27.225" lengthAdjust="spacing">Mean</text>
    </g>
    <g id="PathCollection_116">
     <g>
      <path d="M 0 -3.162278 L -0.709976 -0.977198 L -3.007505 -0.977198 L -1.148765 0.373256 L -1.85874 2.558336 L -0 1.207883 L 1.85874 2.558336 L 1.148765 0.373256 L 3.007505 -0.977198 L 0.709976 -0.977198 z" transform="translate(66.7 54.575)" style="stroke: #ff7f0e; fill: #ff7f0e; stroke: #ff7f0e"/>
     </g>
    </g>
    <g id="text_74">
     <text style="font-size: 10px; font-family: 'DejaVu Sans', sans-serif; text-anchor: start" x="84.7" y="57.2" textLength="20.644" lengthAdjust="spacing">Max</text>
    </g>
   </g>
  </g>
 </g>
 <defs>
  <clipPath id="p9a2cc77dde">
   <rect x="47.7" y="27" width="517.5" height="435.15"/>
  </clipPath>
 </defs>
</svg>

</body></html>
